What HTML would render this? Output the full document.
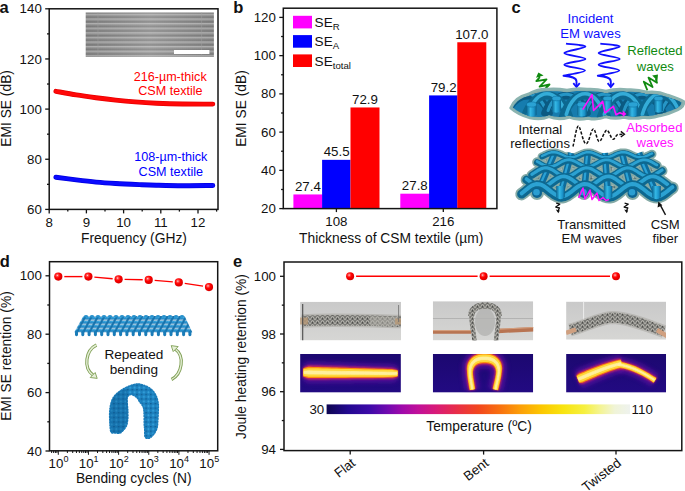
<!DOCTYPE html>
<html><head><meta charset="utf-8"><style>
html,body{margin:0;padding:0;background:#fff;}
svg{display:block;}
text{font-family:"Liberation Sans",sans-serif;}
</style></head><body>
<svg width="685" height="491" viewBox="0 0 685 491">
<rect width="685" height="491" fill="#fff"/>
<g>
<text x="-0.60" y="12.80" font-size="16.5" text-anchor="start" fill="#111" font-weight="bold">a</text>
<g>
<defs><linearGradient id="semv" x1="0" y1="0" x2="0" y2="1"><stop offset="0" stop-color="#6c6c6c"/><stop offset="0.3" stop-color="#acacac"/><stop offset="0.55" stop-color="#949494"/><stop offset="0.85" stop-color="#7e7e7e"/><stop offset="1" stop-color="#6a6a6a"/></linearGradient><pattern id="semp" x="0" y="12.9" width="200" height="4.6" patternUnits="userSpaceOnUse"><rect width="200" height="4.6" fill="url(#semv)"/></pattern><linearGradient id="semh" x1="0" y1="0" x2="1" y2="0"><stop offset="0" stop-color="#fff" stop-opacity="0"/><stop offset="0.5" stop-color="#fff" stop-opacity="0.18"/><stop offset="1" stop-color="#fff" stop-opacity="0"/></linearGradient></defs>
<rect x="85.70" y="12.50" width="128.20" height="44.50" fill="url(#semp)" />
<rect x="85.70" y="12.50" width="128.20" height="44.50" fill="url(#semh)" />
<line x1="98.00" y1="12.50" x2="98.00" y2="57.00" stroke="#a0a0a0" stroke-width="0.8" opacity="0.6"/>
<line x1="201.60" y1="12.50" x2="201.60" y2="57.00" stroke="#a0a0a0" stroke-width="0.8" opacity="0.6"/>
<rect x="174.00" y="50.00" width="35.40" height="4.00" fill="#ffffff" />
</g>
<rect x="49.20" y="8.80" width="168.80" height="200.60" fill="none" stroke="#141414" stroke-width="1.5"/>
<line x1="45.20" y1="209.40" x2="49.20" y2="209.40" stroke="#141414" stroke-width="1.3" />
<text x="41.80" y="214.00" font-size="13.3" text-anchor="end" fill="#111" >60</text>
<line x1="47.00" y1="184.33" x2="49.20" y2="184.33" stroke="#141414" stroke-width="1.3" />
<line x1="45.20" y1="159.25" x2="49.20" y2="159.25" stroke="#141414" stroke-width="1.3" />
<text x="41.80" y="163.85" font-size="13.3" text-anchor="end" fill="#111" >80</text>
<line x1="47.00" y1="134.18" x2="49.20" y2="134.18" stroke="#141414" stroke-width="1.3" />
<line x1="45.20" y1="109.10" x2="49.20" y2="109.10" stroke="#141414" stroke-width="1.3" />
<text x="41.80" y="113.70" font-size="13.3" text-anchor="end" fill="#111" >100</text>
<line x1="47.00" y1="84.03" x2="49.20" y2="84.03" stroke="#141414" stroke-width="1.3" />
<line x1="45.20" y1="58.95" x2="49.20" y2="58.95" stroke="#141414" stroke-width="1.3" />
<text x="41.80" y="63.55" font-size="13.3" text-anchor="end" fill="#111" >120</text>
<line x1="47.00" y1="33.88" x2="49.20" y2="33.88" stroke="#141414" stroke-width="1.3" />
<line x1="45.20" y1="8.80" x2="49.20" y2="8.80" stroke="#141414" stroke-width="1.3" />
<text x="41.80" y="13.40" font-size="13.3" text-anchor="end" fill="#111" >140</text>
<line x1="49.20" y1="209.40" x2="49.20" y2="213.40" stroke="#141414" stroke-width="1.3" />
<text x="49.20" y="226.70" font-size="13.3" text-anchor="middle" fill="#111" >8</text>
<line x1="67.80" y1="209.40" x2="67.80" y2="211.60" stroke="#141414" stroke-width="1.3" />
<line x1="86.40" y1="209.40" x2="86.40" y2="213.40" stroke="#141414" stroke-width="1.3" />
<text x="86.40" y="226.70" font-size="13.3" text-anchor="middle" fill="#111" >9</text>
<line x1="105.00" y1="209.40" x2="105.00" y2="211.60" stroke="#141414" stroke-width="1.3" />
<line x1="123.60" y1="209.40" x2="123.60" y2="213.40" stroke="#141414" stroke-width="1.3" />
<text x="123.60" y="226.70" font-size="13.3" text-anchor="middle" fill="#111" >10</text>
<line x1="142.20" y1="209.40" x2="142.20" y2="211.60" stroke="#141414" stroke-width="1.3" />
<line x1="160.80" y1="209.40" x2="160.80" y2="213.40" stroke="#141414" stroke-width="1.3" />
<text x="160.80" y="226.70" font-size="13.3" text-anchor="middle" fill="#111" >11</text>
<line x1="179.40" y1="209.40" x2="179.40" y2="211.60" stroke="#141414" stroke-width="1.3" />
<line x1="198.00" y1="209.40" x2="198.00" y2="213.40" stroke="#141414" stroke-width="1.3" />
<text x="198.00" y="226.70" font-size="13.3" text-anchor="middle" fill="#111" >12</text>
<line x1="216.60" y1="209.40" x2="216.60" y2="211.60" stroke="#141414" stroke-width="1.3" />
<text x="134.00" y="243.00" font-size="13.8" text-anchor="middle" fill="#111" >Frequency (GHz)</text>
<text transform="translate(11.4,108.4) rotate(-90)" font-size="13.8" text-anchor="middle" fill="#111">EMI SE (dB)</text>
<path d="M55.90,91.30 C59.30,91.90 69.62,93.83 76.30,94.90 C82.98,95.97 89.43,96.83 96.00,97.70 C102.57,98.57 109.20,99.40 115.70,100.10 C122.20,100.80 128.23,101.38 135.00,101.90 C141.77,102.42 148.37,102.85 156.30,103.20 C164.23,103.55 173.18,103.85 182.60,104.00 C192.02,104.15 207.77,104.08 212.80,104.10" fill="none" stroke="#e80000" stroke-width="4.9" stroke-linecap="round"/>
<path d="M55.90,91.30 C59.30,91.90 69.62,93.83 76.30,94.90 C82.98,95.97 89.43,96.83 96.00,97.70 C102.57,98.57 109.20,99.40 115.70,100.10 C122.20,100.80 128.23,101.38 135.00,101.90 C141.77,102.42 148.37,102.85 156.30,103.20 C164.23,103.55 173.18,103.85 182.60,104.00 C192.02,104.15 207.77,104.08 212.80,104.10" fill="none" stroke="#ff0808" stroke-width="3.4" stroke-linecap="round"/>
<path d="M55.90,177.20 C59.30,177.65 69.62,179.08 76.30,179.90 C82.98,180.72 89.43,181.50 96.00,182.10 C102.57,182.70 108.47,183.08 115.70,183.50 C122.93,183.92 132.63,184.32 139.40,184.60 C146.17,184.88 149.10,185.02 156.30,185.20 C163.50,185.38 173.18,185.65 182.60,185.70 C192.02,185.75 207.77,185.53 212.80,185.50" fill="none" stroke="#0000e0" stroke-width="4.9" stroke-linecap="round"/>
<path d="M55.90,177.20 C59.30,177.65 69.62,179.08 76.30,179.90 C82.98,180.72 89.43,181.50 96.00,182.10 C102.57,182.70 108.47,183.08 115.70,183.50 C122.93,183.92 132.63,184.32 139.40,184.60 C146.17,184.88 149.10,185.02 156.30,185.20 C163.50,185.38 173.18,185.65 182.60,185.70 C192.02,185.75 207.77,185.53 212.80,185.50" fill="none" stroke="#0a0aff" stroke-width="3.4" stroke-linecap="round"/>
<text x="170.20" y="80.60" font-size="12.6" text-anchor="middle" fill="#ff0000" >216-µm-thick</text>
<text x="170.40" y="95.20" font-size="12.6" text-anchor="middle" fill="#ff0000" >CSM textile</text>
<text x="170.80" y="161.20" font-size="12.6" text-anchor="middle" fill="#0000ff" >108-µm-thick</text>
<text x="170.80" y="175.80" font-size="12.6" text-anchor="middle" fill="#0000ff" >CSM textile</text>
<text x="233.30" y="13.10" font-size="16.5" text-anchor="start" fill="#111" font-weight="bold">b</text>
<rect x="293.40" y="194.45" width="29.00" height="14.15" fill="#ff00ff" />
<text x="307.90" y="191.05" font-size="13.3" text-anchor="middle" fill="#111" >27.4</text>
<rect x="322.10" y="159.84" width="28.40" height="48.76" fill="#0000ff" />
<text x="336.60" y="156.44" font-size="13.3" text-anchor="middle" fill="#111" >45.5</text>
<rect x="350.50" y="107.46" width="29.00" height="101.14" fill="#ff0000" />
<text x="365.00" y="104.06" font-size="13.3" text-anchor="middle" fill="#111" >72.9</text>
<rect x="400.30" y="193.69" width="29.00" height="14.91" fill="#ff00ff" />
<text x="414.80" y="190.29" font-size="13.3" text-anchor="middle" fill="#111" >27.8</text>
<rect x="429.10" y="95.41" width="28.40" height="113.19" fill="#0000ff" />
<text x="443.60" y="92.01" font-size="13.3" text-anchor="middle" fill="#111" >79.2</text>
<rect x="457.30" y="42.26" width="29.00" height="166.34" fill="#ff0000" />
<text x="471.80" y="38.86" font-size="13.3" text-anchor="middle" fill="#111" >107.0</text>
<rect x="283.30" y="8.20" width="213.60" height="200.40" fill="none" stroke="#141414" stroke-width="1.5"/>
<line x1="279.30" y1="208.60" x2="283.30" y2="208.60" stroke="#141414" stroke-width="1.3" />
<text x="275.90" y="213.20" font-size="13.3" text-anchor="end" fill="#111" >20</text>
<line x1="281.10" y1="189.48" x2="283.30" y2="189.48" stroke="#141414" stroke-width="1.3" />
<line x1="279.30" y1="170.36" x2="283.30" y2="170.36" stroke="#141414" stroke-width="1.3" />
<text x="275.90" y="174.96" font-size="13.3" text-anchor="end" fill="#111" >40</text>
<line x1="281.10" y1="151.24" x2="283.30" y2="151.24" stroke="#141414" stroke-width="1.3" />
<line x1="279.30" y1="132.12" x2="283.30" y2="132.12" stroke="#141414" stroke-width="1.3" />
<text x="275.90" y="136.72" font-size="13.3" text-anchor="end" fill="#111" >60</text>
<line x1="281.10" y1="113.00" x2="283.30" y2="113.00" stroke="#141414" stroke-width="1.3" />
<line x1="279.30" y1="93.88" x2="283.30" y2="93.88" stroke="#141414" stroke-width="1.3" />
<text x="275.90" y="98.48" font-size="13.3" text-anchor="end" fill="#111" >80</text>
<line x1="281.10" y1="74.76" x2="283.30" y2="74.76" stroke="#141414" stroke-width="1.3" />
<line x1="279.30" y1="55.64" x2="283.30" y2="55.64" stroke="#141414" stroke-width="1.3" />
<text x="275.90" y="60.24" font-size="13.3" text-anchor="end" fill="#111" >100</text>
<line x1="281.10" y1="36.52" x2="283.30" y2="36.52" stroke="#141414" stroke-width="1.3" />
<line x1="279.30" y1="17.40" x2="283.30" y2="17.40" stroke="#141414" stroke-width="1.3" />
<text x="275.90" y="22.00" font-size="13.3" text-anchor="end" fill="#111" >120</text>
<line x1="336.40" y1="208.60" x2="336.40" y2="212.10" stroke="#141414" stroke-width="1.3" />
<text x="336.40" y="226.40" font-size="13.3" text-anchor="middle" fill="#111" >108</text>
<line x1="443.30" y1="208.60" x2="443.30" y2="212.10" stroke="#141414" stroke-width="1.3" />
<text x="443.30" y="226.40" font-size="13.3" text-anchor="middle" fill="#111" >216</text>
<text x="391.20" y="242.60" font-size="13.8" text-anchor="middle" fill="#111" >Thickness of CSM textile (µm)</text>
<text transform="translate(246.3,108.5) rotate(-90)" font-size="13.8" text-anchor="middle" fill="#111">EMI SE (dB)</text>
<rect x="293.00" y="15.80" width="19.00" height="12.60" fill="#ff00ff" />
<text x="314.6" y="27.10" font-size="13.6" fill="#111">SE<tspan font-size="9.6" dy="2.8">R</tspan></text>
<rect x="293.00" y="35.10" width="19.00" height="12.60" fill="#0000ff" />
<text x="314.6" y="46.40" font-size="13.6" fill="#111">SE<tspan font-size="9.6" dy="2.8">A</tspan></text>
<rect x="293.00" y="54.40" width="19.00" height="12.60" fill="#ff0000" />
<text x="314.6" y="65.70" font-size="13.6" fill="#111">SE<tspan font-size="9.6" dy="2.8">total</tspan></text>
<text x="-0.30" y="266.70" font-size="16.5" text-anchor="start" fill="#111" font-weight="bold">d</text>
<rect x="49.50" y="261.70" width="168.20" height="189.10" fill="none" stroke="#141414" stroke-width="1.5"/>
<line x1="45.50" y1="451.00" x2="49.50" y2="451.00" stroke="#141414" stroke-width="1.3" />
<text x="41.90" y="455.60" font-size="13.3" text-anchor="end" fill="#111" >40</text>
<line x1="47.30" y1="421.80" x2="49.50" y2="421.80" stroke="#141414" stroke-width="1.3" />
<line x1="45.50" y1="392.60" x2="49.50" y2="392.60" stroke="#141414" stroke-width="1.3" />
<text x="41.90" y="397.20" font-size="13.3" text-anchor="end" fill="#111" >60</text>
<line x1="47.30" y1="363.40" x2="49.50" y2="363.40" stroke="#141414" stroke-width="1.3" />
<line x1="45.50" y1="334.20" x2="49.50" y2="334.20" stroke="#141414" stroke-width="1.3" />
<text x="41.90" y="338.80" font-size="13.3" text-anchor="end" fill="#111" >80</text>
<line x1="47.30" y1="305.00" x2="49.50" y2="305.00" stroke="#141414" stroke-width="1.3" />
<line x1="45.50" y1="275.80" x2="49.50" y2="275.80" stroke="#141414" stroke-width="1.3" />
<text x="41.90" y="280.40" font-size="13.3" text-anchor="end" fill="#111" >100</text>
<line x1="51.61" y1="450.80" x2="51.61" y2="453.00" stroke="#141414" stroke-width="1.0" />
<line x1="53.63" y1="450.80" x2="53.63" y2="453.00" stroke="#141414" stroke-width="1.0" />
<line x1="55.38" y1="450.80" x2="55.38" y2="453.00" stroke="#141414" stroke-width="1.0" />
<line x1="56.92" y1="450.80" x2="56.92" y2="453.00" stroke="#141414" stroke-width="1.0" />
<line x1="58.30" y1="450.80" x2="58.30" y2="454.80" stroke="#141414" stroke-width="1.0" />
<line x1="67.38" y1="450.80" x2="67.38" y2="453.00" stroke="#141414" stroke-width="1.0" />
<line x1="72.69" y1="450.80" x2="72.69" y2="453.00" stroke="#141414" stroke-width="1.0" />
<line x1="76.45" y1="450.80" x2="76.45" y2="453.00" stroke="#141414" stroke-width="1.0" />
<line x1="79.37" y1="450.80" x2="79.37" y2="453.00" stroke="#141414" stroke-width="1.0" />
<line x1="81.76" y1="450.80" x2="81.76" y2="453.00" stroke="#141414" stroke-width="1.0" />
<line x1="83.78" y1="450.80" x2="83.78" y2="453.00" stroke="#141414" stroke-width="1.0" />
<line x1="85.53" y1="450.80" x2="85.53" y2="453.00" stroke="#141414" stroke-width="1.0" />
<line x1="87.07" y1="450.80" x2="87.07" y2="453.00" stroke="#141414" stroke-width="1.0" />
<line x1="88.45" y1="450.80" x2="88.45" y2="454.80" stroke="#141414" stroke-width="1.0" />
<line x1="97.53" y1="450.80" x2="97.53" y2="453.00" stroke="#141414" stroke-width="1.0" />
<line x1="102.84" y1="450.80" x2="102.84" y2="453.00" stroke="#141414" stroke-width="1.0" />
<line x1="106.60" y1="450.80" x2="106.60" y2="453.00" stroke="#141414" stroke-width="1.0" />
<line x1="109.52" y1="450.80" x2="109.52" y2="453.00" stroke="#141414" stroke-width="1.0" />
<line x1="111.91" y1="450.80" x2="111.91" y2="453.00" stroke="#141414" stroke-width="1.0" />
<line x1="113.93" y1="450.80" x2="113.93" y2="453.00" stroke="#141414" stroke-width="1.0" />
<line x1="115.68" y1="450.80" x2="115.68" y2="453.00" stroke="#141414" stroke-width="1.0" />
<line x1="117.22" y1="450.80" x2="117.22" y2="453.00" stroke="#141414" stroke-width="1.0" />
<line x1="118.60" y1="450.80" x2="118.60" y2="454.80" stroke="#141414" stroke-width="1.0" />
<line x1="127.68" y1="450.80" x2="127.68" y2="453.00" stroke="#141414" stroke-width="1.0" />
<line x1="132.99" y1="450.80" x2="132.99" y2="453.00" stroke="#141414" stroke-width="1.0" />
<line x1="136.75" y1="450.80" x2="136.75" y2="453.00" stroke="#141414" stroke-width="1.0" />
<line x1="139.67" y1="450.80" x2="139.67" y2="453.00" stroke="#141414" stroke-width="1.0" />
<line x1="142.06" y1="450.80" x2="142.06" y2="453.00" stroke="#141414" stroke-width="1.0" />
<line x1="144.08" y1="450.80" x2="144.08" y2="453.00" stroke="#141414" stroke-width="1.0" />
<line x1="145.83" y1="450.80" x2="145.83" y2="453.00" stroke="#141414" stroke-width="1.0" />
<line x1="147.37" y1="450.80" x2="147.37" y2="453.00" stroke="#141414" stroke-width="1.0" />
<line x1="148.75" y1="450.80" x2="148.75" y2="454.80" stroke="#141414" stroke-width="1.0" />
<line x1="157.83" y1="450.80" x2="157.83" y2="453.00" stroke="#141414" stroke-width="1.0" />
<line x1="163.14" y1="450.80" x2="163.14" y2="453.00" stroke="#141414" stroke-width="1.0" />
<line x1="166.90" y1="450.80" x2="166.90" y2="453.00" stroke="#141414" stroke-width="1.0" />
<line x1="169.82" y1="450.80" x2="169.82" y2="453.00" stroke="#141414" stroke-width="1.0" />
<line x1="172.21" y1="450.80" x2="172.21" y2="453.00" stroke="#141414" stroke-width="1.0" />
<line x1="174.23" y1="450.80" x2="174.23" y2="453.00" stroke="#141414" stroke-width="1.0" />
<line x1="175.98" y1="450.80" x2="175.98" y2="453.00" stroke="#141414" stroke-width="1.0" />
<line x1="177.52" y1="450.80" x2="177.52" y2="453.00" stroke="#141414" stroke-width="1.0" />
<line x1="178.90" y1="450.80" x2="178.90" y2="454.80" stroke="#141414" stroke-width="1.0" />
<line x1="187.98" y1="450.80" x2="187.98" y2="453.00" stroke="#141414" stroke-width="1.0" />
<line x1="193.29" y1="450.80" x2="193.29" y2="453.00" stroke="#141414" stroke-width="1.0" />
<line x1="197.05" y1="450.80" x2="197.05" y2="453.00" stroke="#141414" stroke-width="1.0" />
<line x1="199.97" y1="450.80" x2="199.97" y2="453.00" stroke="#141414" stroke-width="1.0" />
<line x1="202.36" y1="450.80" x2="202.36" y2="453.00" stroke="#141414" stroke-width="1.0" />
<line x1="204.38" y1="450.80" x2="204.38" y2="453.00" stroke="#141414" stroke-width="1.0" />
<line x1="206.13" y1="450.80" x2="206.13" y2="453.00" stroke="#141414" stroke-width="1.0" />
<line x1="207.67" y1="450.80" x2="207.67" y2="453.00" stroke="#141414" stroke-width="1.0" />
<line x1="209.05" y1="450.80" x2="209.05" y2="454.80" stroke="#141414" stroke-width="1.0" />
<text x="58.50" y="467.6" font-size="13.3" text-anchor="middle" fill="#111">10<tspan font-size="9" dy="-5.2">0</tspan></text>
<text x="88.65" y="467.6" font-size="13.3" text-anchor="middle" fill="#111">10<tspan font-size="9" dy="-5.2">1</tspan></text>
<text x="118.80" y="467.6" font-size="13.3" text-anchor="middle" fill="#111">10<tspan font-size="9" dy="-5.2">2</tspan></text>
<text x="148.95" y="467.6" font-size="13.3" text-anchor="middle" fill="#111">10<tspan font-size="9" dy="-5.2">3</tspan></text>
<text x="179.10" y="467.6" font-size="13.3" text-anchor="middle" fill="#111">10<tspan font-size="9" dy="-5.2">4</tspan></text>
<text x="209.25" y="467.6" font-size="13.3" text-anchor="middle" fill="#111">10<tspan font-size="9" dy="-5.2">5</tspan></text>
<text x="133.80" y="483.00" font-size="13.8" text-anchor="middle" fill="#111" >Bending cycles (N)</text>
<text transform="translate(11.4,356) rotate(-90)" font-size="13.8" text-anchor="middle" fill="#111">EMI SE retention (%)</text>
<text x="233.00" y="266.50" font-size="16.5" text-anchor="start" fill="#111" font-weight="bold">e</text>
<rect x="284.00" y="262.00" width="397.80" height="188.60" fill="none" stroke="#141414" stroke-width="1.5"/>
<line x1="280.00" y1="449.40" x2="284.00" y2="449.40" stroke="#141414" stroke-width="1.3" />
<text x="276.00" y="454.00" font-size="13.3" text-anchor="end" fill="#111" >94</text>
<line x1="281.80" y1="420.55" x2="284.00" y2="420.55" stroke="#141414" stroke-width="1.3" />
<line x1="280.00" y1="391.70" x2="284.00" y2="391.70" stroke="#141414" stroke-width="1.3" />
<text x="276.00" y="396.30" font-size="13.3" text-anchor="end" fill="#111" >96</text>
<line x1="281.80" y1="362.85" x2="284.00" y2="362.85" stroke="#141414" stroke-width="1.3" />
<line x1="280.00" y1="334.00" x2="284.00" y2="334.00" stroke="#141414" stroke-width="1.3" />
<text x="276.00" y="338.60" font-size="13.3" text-anchor="end" fill="#111" >98</text>
<line x1="281.80" y1="305.15" x2="284.00" y2="305.15" stroke="#141414" stroke-width="1.3" />
<line x1="280.00" y1="276.30" x2="284.00" y2="276.30" stroke="#141414" stroke-width="1.3" />
<text x="276.00" y="280.90" font-size="13.3" text-anchor="end" fill="#111" >100</text>
<line x1="350.20" y1="450.60" x2="350.20" y2="454.60" stroke="#141414" stroke-width="1.3" />
<text transform="translate(356.20,464.60) rotate(-38)" font-size="13.3" text-anchor="end" fill="#111">Flat</text>
<line x1="483.60" y1="450.60" x2="483.60" y2="454.60" stroke="#141414" stroke-width="1.3" />
<text transform="translate(489.60,464.60) rotate(-38)" font-size="13.3" text-anchor="end" fill="#111">Bent</text>
<line x1="616.00" y1="450.60" x2="616.00" y2="454.60" stroke="#141414" stroke-width="1.3" />
<text transform="translate(622.00,464.60) rotate(-38)" font-size="13.3" text-anchor="end" fill="#111">Twisted</text>
<text transform="translate(245.9,356.5) rotate(-90)" font-size="13.8" text-anchor="middle" fill="#111">Joule heating retention (%)</text>
<text x="479.00" y="430.70" font-size="13.8" text-anchor="middle" fill="#111" >Temperature (ºC)</text>
<text x="324.20" y="414.10" font-size="13.3" text-anchor="end" fill="#111" >30</text>
<text x="631.60" y="414.00" font-size="13.3" text-anchor="start" fill="#111" >110</text>
<text x="511.60" y="13.00" font-size="16.5" text-anchor="start" fill="#111" font-weight="bold">c</text>
<text x="590.50" y="22.90" font-size="13.1" text-anchor="middle" fill="#1010ff" >Incident</text>
<text x="590.50" y="37.70" font-size="13.1" text-anchor="middle" fill="#1010ff" >EM waves</text>
<text x="655.00" y="55.30" font-size="13.1" text-anchor="middle" fill="#108a10" >Reflected</text>
<text x="655.30" y="70.60" font-size="13.1" text-anchor="middle" fill="#108a10" >waves</text>
<text x="540.30" y="133.50" font-size="13.1" text-anchor="middle" fill="#111" >Internal</text>
<text x="540.10" y="148.40" font-size="13.1" text-anchor="middle" fill="#111" >reflections</text>
<text x="654.40" y="132.20" font-size="13.1" text-anchor="middle" fill="#ff10ff" >Absorbed</text>
<text x="655.00" y="146.70" font-size="13.1" text-anchor="middle" fill="#ff10ff" >waves</text>
<text x="591.50" y="228.50" font-size="13.1" text-anchor="middle" fill="#111" >Transmitted</text>
<text x="591.70" y="243.40" font-size="13.1" text-anchor="middle" fill="#111" >EM waves</text>
<text x="665.20" y="228.50" font-size="13.1" text-anchor="middle" fill="#111" >CSM</text>
<text x="665.30" y="243.40" font-size="13.1" text-anchor="middle" fill="#111" >fiber</text>
<path d="M566.00,43.60 C569.23,44.12 585.68,45.12 585.40,46.70 C585.12,48.28 564.30,51.07 564.30,53.10 C564.30,55.13 585.40,56.97 585.40,58.90 C585.40,60.83 564.37,62.77 564.30,64.70 C564.23,66.63 585.13,68.67 585.00,70.50 C584.87,72.33 567.08,74.83 563.50,75.70 C570.0,76.2 576.5,77 576.5,81.5 L576.5,86.5" fill="none" stroke="#1010ff" stroke-width="1.9" stroke-linejoin="round"/>
<polyline points="573.3,83.2 576.5,87 579.7,83.2" fill="none" stroke="#1010ff" stroke-width="1.8" stroke-linejoin="miter"/>
<path d="M600.30,43.60 C603.53,44.12 619.98,45.12 619.70,46.70 C619.42,48.28 598.60,51.07 598.60,53.10 C598.60,55.13 619.70,56.97 619.70,58.90 C619.70,60.83 598.67,62.77 598.60,64.70 C598.53,66.63 619.43,68.67 619.30,70.50 C619.17,72.33 601.38,74.83 597.80,75.70 C604.3,76.2 610.8,77 610.8,81.5 L610.8,86.5" fill="none" stroke="#1010ff" stroke-width="1.9" stroke-linejoin="round"/>
<polyline points="607.6,83.2 610.8,87 614.0,83.2" fill="none" stroke="#1010ff" stroke-width="1.8" stroke-linejoin="miter"/>
<polyline points="542.6,91.4 549.5,84.5 539.6,86.7 546.5,79.5 536.3,81.2 539.4,77.6 538.8,74.5" fill="none" stroke="#108a10" stroke-width="1.8" stroke-linejoin="round"/>
<polygon points="538.4,72.6 536.0,77.8 543.6,75.6" fill="#108a10"/>
<polyline points="647.4,90.3 643.8,81.7 652.6,87 648.5,77.6 657,82.8 655.8,78.6" fill="none" stroke="#108a10" stroke-width="1.8" stroke-linejoin="round"/>
<polygon points="658.0,74.4 652.2,75.6 657.4,80.8" fill="#108a10"/>
<defs>
<linearGradient id="tealV" x1="0" y1="0" x2="0" y2="1">
<stop offset="0" stop-color="#2aa6d6"/><stop offset="0.45" stop-color="#1a8cc4"/><stop offset="1" stop-color="#0a5e88"/></linearGradient>
<linearGradient id="tubeV" x1="0" y1="0" x2="0" y2="1">
<stop offset="0" stop-color="#0d6c9a"/><stop offset="0.35" stop-color="#30b4e4"/><stop offset="0.7" stop-color="#1790c8"/><stop offset="1" stop-color="#0a5a84"/></linearGradient>
<linearGradient id="tubeH" x1="0" y1="0" x2="1" y2="0">
<stop offset="0" stop-color="#0b6490"/><stop offset="0.4" stop-color="#34b8e6"/><stop offset="0.75" stop-color="#1a92c8"/><stop offset="1" stop-color="#0a5e88"/></linearGradient>
<pattern id="meshgap" width="4" height="4" patternUnits="userSpaceOnUse">
<rect width="4" height="4" fill="#758888"/><rect x="0" y="0" width="2" height="2" fill="#a6b4b4"/><rect x="2" y="2" width="2" height="2" fill="#566a6a"/></pattern>
<filter id="soft" x="-10%" y="-10%" width="120%" height="120%"><feGaussianBlur stdDeviation="0.5"/></filter>
<filter id="soft1" x="-10%" y="-30%" width="120%" height="160%"><feGaussianBlur stdDeviation="1"/></filter>
</defs>
<path d="M510.5,108 C513,101 520,96 528,94 C535,90 541,88.5 548,89 C555,88.5 561,89 567,90 C573,88.5 580,88 587,89 C594,88.5 600,89.5 606,91 C613,89 620,88.5 627,89.5 C634,89 641,90 647,92 C655,91 662,92.5 668,95 C674,97 680,99 684,101.5 C684.5,105 682,108 678,110 C672,113 666,115 660,116 C655,118 649,118.5 644,117.5 C637,119 630,119 624,117.5 C618,119 612,119 606,117 C600,119.5 594,120 588,118.5 C581,120 574,119.5 569,117.5 C562,119.5 555,119.5 549,117 C543,119.5 536,119.5 530,118 C523,116 516,113 510.5,108 Z" fill="#86acaa" stroke="#8cb4b0" stroke-width="2.4" stroke-linejoin="round" filter="url(#soft)"/>
<path d="M513,107.5 C516,101.5 522,97.5 529,96 C536,92.5 542,91 548,91.5 C555,91 561,91.5 567,92.5 C573,91 580,90.5 587,91.5 C594,91 600,92 606,93.5 C613,91.5 620,91 627,92 C634,91.5 641,92.5 647,94.5 C655,93.5 662,95 668,97.5 C673,99 678,100.5 681.5,102.5 C681,105 679,107 676,108.5 C670,111.5 664,113 658,114 C653,116 648,116.5 644,115.5 C637,117 630,117 624,115.5 C618,117 612,117 606,115 C600,117.5 594,118 588,116.5 C581,118 574,117.5 569,115.5 C562,117.5 555,117.5 549,115 C543,117.5 536,117.5 530,116 C523,114 517,111.5 513,107.5 Z" fill="#167cae"/>
<clipPath id="tclip"><path d="M513,107.5 C516,101.5 522,97.5 529,96 C536,92.5 542,91 548,91.5 C555,91 561,91.5 567,92.5 C573,91 580,90.5 587,91.5 C594,91 600,92 606,93.5 C613,91.5 620,91 627,92 C634,91.5 641,92.5 647,94.5 C655,93.5 662,95 668,97.5 C673,99 678,100.5 681.5,102.5 C681,105 679,107 676,108.5 C670,111.5 664,113 658,114 C653,116 648,116.5 644,115.5 C637,117 630,117 624,115.5 C618,117 612,117 606,115 C600,117.5 594,118 588,116.5 C581,118 574,117.5 569,115.5 C562,117.5 555,117.5 549,115 C543,117.5 536,117.5 530,116 C523,114 517,111.5 513,107.5 Z"/></clipPath>
<g clip-path="url(#tclip)">
<path d="M507.0,113.0 C516.5,90.0 539.5,90.0 549.0,113.0" fill="none" stroke="#0b5a82" stroke-width="7.5" stroke-linecap="round"/>
<path d="M510.1,110.5 C517.5,88.8 538.5,88.8 545.9,110.5" fill="none" stroke="#2696c6" stroke-width="3.1" stroke-linecap="round"/>
<path d="M545.0,113.0 C554.5,90.0 577.5,90.0 587.0,113.0" fill="none" stroke="#0b5a82" stroke-width="7.5" stroke-linecap="round"/>
<path d="M548.1,110.5 C555.5,88.8 576.5,88.8 583.9,110.5" fill="none" stroke="#2696c6" stroke-width="3.1" stroke-linecap="round"/>
<path d="M583.0,113.0 C592.5,90.0 615.5,90.0 625.0,113.0" fill="none" stroke="#0b5a82" stroke-width="7.5" stroke-linecap="round"/>
<path d="M586.1,110.5 C593.5,88.8 614.5,88.8 621.9,110.5" fill="none" stroke="#2696c6" stroke-width="3.1" stroke-linecap="round"/>
<path d="M621.0,113.0 C630.5,90.0 653.5,90.0 663.0,113.0" fill="none" stroke="#0b5a82" stroke-width="7.5" stroke-linecap="round"/>
<path d="M624.1,110.5 C631.5,88.8 652.5,88.8 659.9,110.5" fill="none" stroke="#2696c6" stroke-width="3.1" stroke-linecap="round"/>
<path d="M659.0,113.0 C668.5,90.0 691.5,90.0 701.0,113.0" fill="none" stroke="#0b5a82" stroke-width="7.5" stroke-linecap="round"/>
<path d="M662.1,110.5 C669.5,88.8 690.5,88.8 697.9,110.5" fill="none" stroke="#2696c6" stroke-width="3.1" stroke-linecap="round"/>
<path d="M525.0,117.0 C534.9,88.0 559.1,88.0 569.0,117.0" fill="none" stroke="#0d6890" stroke-width="8.5" stroke-linecap="round"/>
<path d="M528.3,114.5 C536.0,86.8 558.0,86.8 565.7,114.5" fill="none" stroke="#34acd8" stroke-width="3.6" stroke-linecap="round"/>
<path d="M563.0,117.0 C572.9,88.0 597.1,88.0 607.0,117.0" fill="none" stroke="#0d6890" stroke-width="8.5" stroke-linecap="round"/>
<path d="M566.3,114.5 C574.0,86.8 596.0,86.8 603.7,114.5" fill="none" stroke="#34acd8" stroke-width="3.6" stroke-linecap="round"/>
<path d="M601.0,117.0 C610.9,88.0 635.1,88.0 645.0,117.0" fill="none" stroke="#0d6890" stroke-width="8.5" stroke-linecap="round"/>
<path d="M604.3,114.5 C612.0,86.8 634.0,86.8 641.7,114.5" fill="none" stroke="#34acd8" stroke-width="3.6" stroke-linecap="round"/>
<path d="M639.0,117.0 C648.9,88.0 673.1,88.0 683.0,117.0" fill="none" stroke="#0d6890" stroke-width="8.5" stroke-linecap="round"/>
<path d="M642.3,114.5 C650.0,86.8 672.0,86.8 679.7,114.5" fill="none" stroke="#34acd8" stroke-width="3.6" stroke-linecap="round"/>
</g>
<path d="M526.5,104.5 L526.5,115.0 Q531.5,118.5 536.5,115.0 L536.5,104.5 Z" fill="url(#tubeH)"/>
<ellipse cx="531.5" cy="104.5" rx="5.0" ry="2.6" fill="#2aa2d4" stroke="#0e6f9e" stroke-width="0.6"/>
<path d="M552.0,98.5 L552.0,111.0 Q556.5,114.5 561.0,111.0 L561.0,98.5 Z" fill="url(#tubeH)"/>
<ellipse cx="556.5" cy="98.5" rx="4.5" ry="2.3" fill="#2aa2d4" stroke="#0e6f9e" stroke-width="0.6"/>
<path d="M577.0,104.5 L577.0,115.0 Q582.0,118.5 587.0,115.0 L587.0,104.5 Z" fill="url(#tubeH)"/>
<ellipse cx="582.0" cy="104.5" rx="5.0" ry="2.6" fill="#2aa2d4" stroke="#0e6f9e" stroke-width="0.6"/>
<path d="M603.0,98.5 L603.0,111.0 Q607.5,114.5 612.0,111.0 L612.0,98.5 Z" fill="url(#tubeH)"/>
<ellipse cx="607.5" cy="98.5" rx="4.5" ry="2.3" fill="#2aa2d4" stroke="#0e6f9e" stroke-width="0.6"/>
<path d="M628.0,104.5 L628.0,115.0 Q633.0,118.5 638.0,115.0 L638.0,104.5 Z" fill="url(#tubeH)"/>
<ellipse cx="633.0" cy="104.5" rx="5.0" ry="2.6" fill="#2aa2d4" stroke="#0e6f9e" stroke-width="0.6"/>
<path d="M654.0,98.5 L654.0,111.0 Q658.5,114.5 663.0,111.0 L663.0,98.5 Z" fill="url(#tubeH)"/>
<ellipse cx="658.5" cy="98.5" rx="4.5" ry="2.3" fill="#2aa2d4" stroke="#0e6f9e" stroke-width="0.6"/>
<polyline points="582.6,109.7 592,94.6 593.6,110.5 602.7,101.4 605,112.8 613.3,106.3 616,114.7 619.8,112.8 623.4,114.2" fill="none" stroke="#ff10ff" stroke-width="1.6" stroke-linejoin="round"/>
<polygon points="626.4,114 622.6,110.6 622.8,117" fill="#ff10ff"/>
<path d="M573,146.5 C575,138 576.5,126 578.4,126.1 C580.5,126.2 583,143.8 586.1,143.8 C589,143.8 591,128.9 593.3,128.9 C595.5,128.9 597,141.5 599.2,141.5 C601.5,141.5 604.5,130.2 606.9,130.2 C609,130.2 611,139.3 613.2,139.3 C615,139.3 616,134.6 618,134.5 L623,134.3" fill="none" stroke="#111" stroke-width="1.5" stroke-dasharray="3,1.6"/>
<polyline points="620.8,131.4 624.4,134.3 620.8,137" fill="none" stroke="#111" stroke-width="1.4"/>
<path d="M543.7,155 L650.3,155 L671,189 L523,189 Z" fill="url(#meshgap)"/>
<line x1="554.7" y1="153" x2="537.0" y2="196" stroke="#84aaa6" stroke-width="9.5"/>
<line x1="571.3" y1="153" x2="560.5" y2="196" stroke="#84aaa6" stroke-width="9.5"/>
<line x1="587.8" y1="153" x2="584.0" y2="196" stroke="#84aaa6" stroke-width="9.5"/>
<line x1="604.8" y1="153" x2="608.0" y2="196" stroke="#84aaa6" stroke-width="9.5"/>
<line x1="622.0" y1="153" x2="632.5" y2="196" stroke="#84aaa6" stroke-width="9.5"/>
<line x1="638.9" y1="153" x2="656.5" y2="196" stroke="#84aaa6" stroke-width="9.5"/>
<path d="M542.0,156.8 L543.8,156.0 L545.7,155.1 L547.5,154.3 L549.3,153.6 L551.2,153.1 L553.0,152.9 L554.8,153.0 L556.7,153.3 L558.5,153.9 L560.3,154.6 L562.2,155.5 L564.0,156.3 L565.8,157.1 L567.7,157.7 L569.5,158.0 L571.3,158.1 L573.2,157.9 L575.0,157.4 L576.8,156.8 L578.7,156.0 L580.5,155.1 L582.3,154.3 L584.2,153.6 L586.0,153.1 L587.8,152.9 L589.7,153.0 L591.5,153.3 L593.3,153.9 L595.2,154.7 L597.0,155.5 L598.8,156.3 L600.7,157.1 L602.5,157.7 L604.3,158.0 L606.2,158.1 L608.0,157.9 L609.8,157.4 L611.7,156.7 L613.5,155.9 L615.3,155.0 L617.2,154.2 L619.0,153.6 L620.8,153.1 L622.7,152.9 L624.5,153.0 L626.3,153.3 L628.2,153.9 L630.0,154.7 L631.8,155.5 L633.7,156.4 L635.5,157.1 L637.3,157.7 L639.2,158.0 L641.0,158.1 L642.8,157.9 L644.7,157.4 L646.5,156.7 L648.3,155.9 L650.2,155.0 L652.0,154.2" fill="none" stroke="#84aaa6" stroke-width="9.0" stroke-linecap="round" stroke-linejoin="round"/>
<path d="M537.1,162.3 L539.1,163.3 L541.1,164.5 L543.1,165.6 L545.1,166.5 L547.1,167.1 L549.1,167.4 L551.1,167.4 L553.1,166.9 L555.1,166.2 L557.1,165.2 L559.1,164.1 L561.1,162.9 L563.1,161.9 L565.1,161.1 L567.1,160.7 L569.1,160.5 L571.1,160.8 L573.0,161.4 L575.0,162.3 L577.0,163.4 L579.0,164.5 L581.0,165.6 L583.0,166.5 L585.0,167.2 L587.0,167.4 L589.0,167.4 L591.0,166.9 L593.0,166.1 L595.0,165.1 L597.0,164.0 L599.0,162.9 L601.0,161.9 L603.0,161.1 L605.0,160.6 L607.0,160.6 L609.0,160.8 L611.0,161.5 L613.0,162.4 L615.0,163.5 L617.0,164.6 L619.0,165.7 L621.0,166.6 L622.9,167.2 L624.9,167.5 L626.9,167.3 L628.9,166.9 L630.9,166.1 L632.9,165.1 L634.9,163.9 L636.9,162.8 L638.9,161.8 L640.9,161.1 L642.9,160.6 L644.9,160.6 L646.9,160.9 L648.9,161.5 L650.9,162.4 L652.9,163.5 L654.9,164.7 L656.9,165.7" fill="none" stroke="#84aaa6" stroke-width="9.9" stroke-linecap="round" stroke-linejoin="round"/>
<path d="M531.9,175.2 L534.1,173.8 L536.3,172.4 L538.4,171.0 L540.6,169.9 L542.8,169.0 L545.0,168.6 L547.1,168.7 L549.3,169.3 L551.5,170.2 L553.6,171.5 L555.8,172.9 L558.0,174.4 L560.1,175.6 L562.3,176.6 L564.5,177.2 L566.6,177.4 L568.8,177.0 L571.0,176.3 L573.1,175.1 L575.3,173.8 L577.5,172.3 L579.7,170.9 L581.8,169.8 L584.0,169.0 L586.2,168.6 L588.3,168.8 L590.5,169.3 L592.7,170.3 L594.8,171.6 L597.0,173.0 L599.2,174.4 L601.3,175.7 L603.5,176.7 L605.7,177.2 L607.8,177.4 L610.0,177.0 L612.2,176.2 L614.3,175.1 L616.5,173.7 L618.7,172.2 L620.9,170.9 L623.0,169.7 L625.2,169.0 L627.4,168.6 L629.5,168.8 L631.7,169.4 L633.9,170.4 L636.0,171.6 L638.2,173.1 L640.4,174.5 L642.5,175.8 L644.7,176.7 L646.9,177.3 L649.0,177.4 L651.2,177.0 L653.4,176.1 L655.6,175.0 L657.7,173.6 L659.9,172.2 L662.1,170.8" fill="none" stroke="#84aaa6" stroke-width="10.8" stroke-linecap="round" stroke-linejoin="round"/>
<path d="M526.5,179.8 L528.8,181.5 L531.2,183.2 L533.5,184.9 L535.9,186.3 L538.2,187.3 L540.6,187.8 L542.9,187.7 L545.3,187.0 L547.6,185.9 L550.0,184.3 L552.3,182.6 L554.7,180.9 L557.0,179.3 L559.4,178.1 L561.7,177.3 L564.1,177.2 L566.4,177.6 L568.8,178.5 L571.1,179.9 L573.5,181.6 L575.8,183.3 L578.2,185.0 L580.5,186.4 L582.9,187.4 L585.2,187.8 L587.6,187.7 L589.9,187.0 L592.3,185.8 L594.6,184.2 L597.0,182.5 L599.4,180.8 L601.7,179.2 L604.1,178.0 L606.4,177.3 L608.8,177.2 L611.1,177.6 L613.5,178.6 L615.8,180.0 L618.2,181.7 L620.5,183.4 L622.9,185.1 L625.2,186.5 L627.6,187.4 L629.9,187.8 L632.3,187.7 L634.6,186.9 L637.0,185.7 L639.3,184.1 L641.7,182.4 L644.0,180.7 L646.4,179.1 L648.7,178.0 L651.1,177.3 L653.4,177.2 L655.8,177.7 L658.1,178.7 L660.5,180.1 L662.8,181.8 L665.2,183.5 L667.5,185.2" fill="none" stroke="#84aaa6" stroke-width="11.7" stroke-linecap="round" stroke-linejoin="round"/>
<path d="M521.6,194.1 L524.1,192.2 L526.6,190.1 L529.1,188.2 L531.6,186.5 L534.1,185.4 L536.7,184.8 L539.2,185.0 L541.7,185.7 L544.2,187.1 L546.7,188.9 L549.2,190.9 L551.7,192.9 L554.3,194.7 L556.8,196.1 L559.3,197.0 L561.8,197.2 L564.3,196.7 L566.8,195.6 L569.3,194.0 L571.9,192.1 L574.4,190.0 L576.9,188.1 L579.4,186.5 L581.9,185.3 L584.4,184.8 L586.9,185.0 L589.5,185.8 L592.0,187.2 L594.5,189.0 L597.0,191.0 L599.5,193.0 L602.0,194.8 L604.5,196.2 L607.1,197.0 L609.6,197.2 L612.1,196.7 L614.6,195.5 L617.1,193.9 L619.6,192.0 L622.1,189.9 L624.7,188.0 L627.2,186.4 L629.7,185.3 L632.2,184.8 L634.7,185.0 L637.2,185.9 L639.7,187.3 L642.3,189.1 L644.8,191.1 L647.3,193.1 L649.8,194.9 L652.3,196.3 L654.8,197.0 L657.3,197.2 L659.9,196.6 L662.4,195.5 L664.9,193.8 L667.4,191.9 L669.9,189.8 L672.4,187.9" fill="none" stroke="#84aaa6" stroke-width="12.6" stroke-linecap="round" stroke-linejoin="round"/>
<circle cx="537.0" cy="193" r="7.0" fill="#84aaa6"/>
<circle cx="584.0" cy="193" r="7.0" fill="#84aaa6"/>
<circle cx="632.5" cy="193" r="7.0" fill="#84aaa6"/>
<rect x="554.5" y="186" width="12" height="16.5" rx="5" fill="#84aaa6"/>
<rect x="602.0" y="186" width="12" height="16.5" rx="5" fill="#84aaa6"/>
<rect x="650.5" y="186" width="12" height="16.5" rx="5" fill="#84aaa6"/>
<line x1="554.7" y1="153" x2="537.0" y2="194" stroke="#0d6c9c" stroke-width="6.5"/>
<line x1="554.1" y1="153" x2="536.2" y2="194" stroke="#2aa2d6" stroke-width="2.2"/>
<line x1="571.3" y1="153" x2="560.5" y2="194" stroke="#0d6c9c" stroke-width="6.5"/>
<line x1="570.7" y1="153" x2="559.7" y2="194" stroke="#2aa2d6" stroke-width="2.2"/>
<line x1="587.8" y1="153" x2="584.0" y2="194" stroke="#0d6c9c" stroke-width="6.5"/>
<line x1="587.2" y1="153" x2="583.2" y2="194" stroke="#2aa2d6" stroke-width="2.2"/>
<line x1="604.8" y1="153" x2="608.0" y2="194" stroke="#0d6c9c" stroke-width="6.5"/>
<line x1="604.1" y1="153" x2="607.2" y2="194" stroke="#2aa2d6" stroke-width="2.2"/>
<line x1="622.0" y1="153" x2="632.5" y2="194" stroke="#0d6c9c" stroke-width="6.5"/>
<line x1="621.4" y1="153" x2="631.7" y2="194" stroke="#2aa2d6" stroke-width="2.2"/>
<line x1="638.9" y1="153" x2="656.5" y2="194" stroke="#0d6c9c" stroke-width="6.5"/>
<line x1="638.3" y1="153" x2="655.7" y2="194" stroke="#2aa2d6" stroke-width="2.2"/>
<path d="M542.0,156.8 L543.8,156.0 L545.7,155.1 L547.5,154.3 L549.3,153.6 L551.2,153.1 L553.0,152.9 L554.8,153.0 L556.7,153.3 L558.5,153.9 L560.3,154.6 L562.2,155.5 L564.0,156.3 L565.8,157.1 L567.7,157.7 L569.5,158.0 L571.3,158.1 L573.2,157.9 L575.0,157.4 L576.8,156.8 L578.7,156.0 L580.5,155.1 L582.3,154.3 L584.2,153.6 L586.0,153.1 L587.8,152.9 L589.7,153.0 L591.5,153.3 L593.3,153.9 L595.2,154.7 L597.0,155.5 L598.8,156.3 L600.7,157.1 L602.5,157.7 L604.3,158.0 L606.2,158.1 L608.0,157.9 L609.8,157.4 L611.7,156.7 L613.5,155.9 L615.3,155.0 L617.2,154.2 L619.0,153.6 L620.8,153.1 L622.7,152.9 L624.5,153.0 L626.3,153.3 L628.2,153.9 L630.0,154.7 L631.8,155.5 L633.7,156.4 L635.5,157.1 L637.3,157.7 L639.2,158.0 L641.0,158.1 L642.8,157.9 L644.7,157.4 L646.5,156.7 L648.3,155.9 L650.2,155.0 L652.0,154.2" fill="none" stroke="#0d6890" stroke-width="5.4" stroke-linecap="round" stroke-linejoin="round"/>
<path d="M542.0,156.8 L543.8,156.0 L545.7,155.1 L547.5,154.3 L549.3,153.6 L551.2,153.1 L553.0,152.9 L554.8,153.0 L556.7,153.3 L558.5,153.9 L560.3,154.6 L562.2,155.5 L564.0,156.3 L565.8,157.1 L567.7,157.7 L569.5,158.0 L571.3,158.1 L573.2,157.9 L575.0,157.4 L576.8,156.8 L578.7,156.0 L580.5,155.1 L582.3,154.3 L584.2,153.6 L586.0,153.1 L587.8,152.9 L589.7,153.0 L591.5,153.3 L593.3,153.9 L595.2,154.7 L597.0,155.5 L598.8,156.3 L600.7,157.1 L602.5,157.7 L604.3,158.0 L606.2,158.1 L608.0,157.9 L609.8,157.4 L611.7,156.7 L613.5,155.9 L615.3,155.0 L617.2,154.2 L619.0,153.6 L620.8,153.1 L622.7,152.9 L624.5,153.0 L626.3,153.3 L628.2,153.9 L630.0,154.7 L631.8,155.5 L633.7,156.4 L635.5,157.1 L637.3,157.7 L639.2,158.0 L641.0,158.1 L642.8,157.9 L644.7,157.4 L646.5,156.7 L648.3,155.9 L650.2,155.0 L652.0,154.2" fill="none" stroke="#2ca2d2" stroke-width="2.4" stroke-linecap="round" stroke-linejoin="round" transform="translate(0,-0.8)"/>
<path d="M537.1,162.3 L539.1,163.3 L541.1,164.5 L543.1,165.6 L545.1,166.5 L547.1,167.1 L549.1,167.4 L551.1,167.4 L553.1,166.9 L555.1,166.2 L557.1,165.2 L559.1,164.1 L561.1,162.9 L563.1,161.9 L565.1,161.1 L567.1,160.7 L569.1,160.5 L571.1,160.8 L573.0,161.4 L575.0,162.3 L577.0,163.4 L579.0,164.5 L581.0,165.6 L583.0,166.5 L585.0,167.2 L587.0,167.4 L589.0,167.4 L591.0,166.9 L593.0,166.1 L595.0,165.1 L597.0,164.0 L599.0,162.9 L601.0,161.9 L603.0,161.1 L605.0,160.6 L607.0,160.6 L609.0,160.8 L611.0,161.5 L613.0,162.4 L615.0,163.5 L617.0,164.6 L619.0,165.7 L621.0,166.6 L622.9,167.2 L624.9,167.5 L626.9,167.3 L628.9,166.9 L630.9,166.1 L632.9,165.1 L634.9,163.9 L636.9,162.8 L638.9,161.8 L640.9,161.1 L642.9,160.6 L644.9,160.6 L646.9,160.9 L648.9,161.5 L650.9,162.4 L652.9,163.5 L654.9,164.7 L656.9,165.7" fill="none" stroke="#0d6890" stroke-width="6.3" stroke-linecap="round" stroke-linejoin="round"/>
<path d="M537.1,162.3 L539.1,163.3 L541.1,164.5 L543.1,165.6 L545.1,166.5 L547.1,167.1 L549.1,167.4 L551.1,167.4 L553.1,166.9 L555.1,166.2 L557.1,165.2 L559.1,164.1 L561.1,162.9 L563.1,161.9 L565.1,161.1 L567.1,160.7 L569.1,160.5 L571.1,160.8 L573.0,161.4 L575.0,162.3 L577.0,163.4 L579.0,164.5 L581.0,165.6 L583.0,166.5 L585.0,167.2 L587.0,167.4 L589.0,167.4 L591.0,166.9 L593.0,166.1 L595.0,165.1 L597.0,164.0 L599.0,162.9 L601.0,161.9 L603.0,161.1 L605.0,160.6 L607.0,160.6 L609.0,160.8 L611.0,161.5 L613.0,162.4 L615.0,163.5 L617.0,164.6 L619.0,165.7 L621.0,166.6 L622.9,167.2 L624.9,167.5 L626.9,167.3 L628.9,166.9 L630.9,166.1 L632.9,165.1 L634.9,163.9 L636.9,162.8 L638.9,161.8 L640.9,161.1 L642.9,160.6 L644.9,160.6 L646.9,160.9 L648.9,161.5 L650.9,162.4 L652.9,163.5 L654.9,164.7 L656.9,165.7" fill="none" stroke="#2ca2d2" stroke-width="2.8" stroke-linecap="round" stroke-linejoin="round" transform="translate(0,-0.8)"/>
<path d="M531.9,175.2 L534.1,173.8 L536.3,172.4 L538.4,171.0 L540.6,169.9 L542.8,169.0 L545.0,168.6 L547.1,168.7 L549.3,169.3 L551.5,170.2 L553.6,171.5 L555.8,172.9 L558.0,174.4 L560.1,175.6 L562.3,176.6 L564.5,177.2 L566.6,177.4 L568.8,177.0 L571.0,176.3 L573.1,175.1 L575.3,173.8 L577.5,172.3 L579.7,170.9 L581.8,169.8 L584.0,169.0 L586.2,168.6 L588.3,168.8 L590.5,169.3 L592.7,170.3 L594.8,171.6 L597.0,173.0 L599.2,174.4 L601.3,175.7 L603.5,176.7 L605.7,177.2 L607.8,177.4 L610.0,177.0 L612.2,176.2 L614.3,175.1 L616.5,173.7 L618.7,172.2 L620.9,170.9 L623.0,169.7 L625.2,169.0 L627.4,168.6 L629.5,168.8 L631.7,169.4 L633.9,170.4 L636.0,171.6 L638.2,173.1 L640.4,174.5 L642.5,175.8 L644.7,176.7 L646.9,177.3 L649.0,177.4 L651.2,177.0 L653.4,176.1 L655.6,175.0 L657.7,173.6 L659.9,172.2 L662.1,170.8" fill="none" stroke="#0d6890" stroke-width="7.2" stroke-linecap="round" stroke-linejoin="round"/>
<path d="M531.9,175.2 L534.1,173.8 L536.3,172.4 L538.4,171.0 L540.6,169.9 L542.8,169.0 L545.0,168.6 L547.1,168.7 L549.3,169.3 L551.5,170.2 L553.6,171.5 L555.8,172.9 L558.0,174.4 L560.1,175.6 L562.3,176.6 L564.5,177.2 L566.6,177.4 L568.8,177.0 L571.0,176.3 L573.1,175.1 L575.3,173.8 L577.5,172.3 L579.7,170.9 L581.8,169.8 L584.0,169.0 L586.2,168.6 L588.3,168.8 L590.5,169.3 L592.7,170.3 L594.8,171.6 L597.0,173.0 L599.2,174.4 L601.3,175.7 L603.5,176.7 L605.7,177.2 L607.8,177.4 L610.0,177.0 L612.2,176.2 L614.3,175.1 L616.5,173.7 L618.7,172.2 L620.9,170.9 L623.0,169.7 L625.2,169.0 L627.4,168.6 L629.5,168.8 L631.7,169.4 L633.9,170.4 L636.0,171.6 L638.2,173.1 L640.4,174.5 L642.5,175.8 L644.7,176.7 L646.9,177.3 L649.0,177.4 L651.2,177.0 L653.4,176.1 L655.6,175.0 L657.7,173.6 L659.9,172.2 L662.1,170.8" fill="none" stroke="#2ca2d2" stroke-width="3.2" stroke-linecap="round" stroke-linejoin="round" transform="translate(0,-0.8)"/>
<path d="M526.5,179.8 L528.8,181.5 L531.2,183.2 L533.5,184.9 L535.9,186.3 L538.2,187.3 L540.6,187.8 L542.9,187.7 L545.3,187.0 L547.6,185.9 L550.0,184.3 L552.3,182.6 L554.7,180.9 L557.0,179.3 L559.4,178.1 L561.7,177.3 L564.1,177.2 L566.4,177.6 L568.8,178.5 L571.1,179.9 L573.5,181.6 L575.8,183.3 L578.2,185.0 L580.5,186.4 L582.9,187.4 L585.2,187.8 L587.6,187.7 L589.9,187.0 L592.3,185.8 L594.6,184.2 L597.0,182.5 L599.4,180.8 L601.7,179.2 L604.1,178.0 L606.4,177.3 L608.8,177.2 L611.1,177.6 L613.5,178.6 L615.8,180.0 L618.2,181.7 L620.5,183.4 L622.9,185.1 L625.2,186.5 L627.6,187.4 L629.9,187.8 L632.3,187.7 L634.6,186.9 L637.0,185.7 L639.3,184.1 L641.7,182.4 L644.0,180.7 L646.4,179.1 L648.7,178.0 L651.1,177.3 L653.4,177.2 L655.8,177.7 L658.1,178.7 L660.5,180.1 L662.8,181.8 L665.2,183.5 L667.5,185.2" fill="none" stroke="#0d6890" stroke-width="8.1" stroke-linecap="round" stroke-linejoin="round"/>
<path d="M526.5,179.8 L528.8,181.5 L531.2,183.2 L533.5,184.9 L535.9,186.3 L538.2,187.3 L540.6,187.8 L542.9,187.7 L545.3,187.0 L547.6,185.9 L550.0,184.3 L552.3,182.6 L554.7,180.9 L557.0,179.3 L559.4,178.1 L561.7,177.3 L564.1,177.2 L566.4,177.6 L568.8,178.5 L571.1,179.9 L573.5,181.6 L575.8,183.3 L578.2,185.0 L580.5,186.4 L582.9,187.4 L585.2,187.8 L587.6,187.7 L589.9,187.0 L592.3,185.8 L594.6,184.2 L597.0,182.5 L599.4,180.8 L601.7,179.2 L604.1,178.0 L606.4,177.3 L608.8,177.2 L611.1,177.6 L613.5,178.6 L615.8,180.0 L618.2,181.7 L620.5,183.4 L622.9,185.1 L625.2,186.5 L627.6,187.4 L629.9,187.8 L632.3,187.7 L634.6,186.9 L637.0,185.7 L639.3,184.1 L641.7,182.4 L644.0,180.7 L646.4,179.1 L648.7,178.0 L651.1,177.3 L653.4,177.2 L655.8,177.7 L658.1,178.7 L660.5,180.1 L662.8,181.8 L665.2,183.5 L667.5,185.2" fill="none" stroke="#2ca2d2" stroke-width="3.7" stroke-linecap="round" stroke-linejoin="round" transform="translate(0,-0.8)"/>
<path d="M521.6,194.1 L524.1,192.2 L526.6,190.1 L529.1,188.2 L531.6,186.5 L534.1,185.4 L536.7,184.8 L539.2,185.0 L541.7,185.7 L544.2,187.1 L546.7,188.9 L549.2,190.9 L551.7,192.9 L554.3,194.7 L556.8,196.1 L559.3,197.0 L561.8,197.2 L564.3,196.7 L566.8,195.6 L569.3,194.0 L571.9,192.1 L574.4,190.0 L576.9,188.1 L579.4,186.5 L581.9,185.3 L584.4,184.8 L586.9,185.0 L589.5,185.8 L592.0,187.2 L594.5,189.0 L597.0,191.0 L599.5,193.0 L602.0,194.8 L604.5,196.2 L607.1,197.0 L609.6,197.2 L612.1,196.7 L614.6,195.5 L617.1,193.9 L619.6,192.0 L622.1,189.9 L624.7,188.0 L627.2,186.4 L629.7,185.3 L632.2,184.8 L634.7,185.0 L637.2,185.9 L639.7,187.3 L642.3,189.1 L644.8,191.1 L647.3,193.1 L649.8,194.9 L652.3,196.3 L654.8,197.0 L657.3,197.2 L659.9,196.6 L662.4,195.5 L664.9,193.8 L667.4,191.9 L669.9,189.8 L672.4,187.9" fill="none" stroke="#0d6890" stroke-width="9.0" stroke-linecap="round" stroke-linejoin="round"/>
<path d="M521.6,194.1 L524.1,192.2 L526.6,190.1 L529.1,188.2 L531.6,186.5 L534.1,185.4 L536.7,184.8 L539.2,185.0 L541.7,185.7 L544.2,187.1 L546.7,188.9 L549.2,190.9 L551.7,192.9 L554.3,194.7 L556.8,196.1 L559.3,197.0 L561.8,197.2 L564.3,196.7 L566.8,195.6 L569.3,194.0 L571.9,192.1 L574.4,190.0 L576.9,188.1 L579.4,186.5 L581.9,185.3 L584.4,184.8 L586.9,185.0 L589.5,185.8 L592.0,187.2 L594.5,189.0 L597.0,191.0 L599.5,193.0 L602.0,194.8 L604.5,196.2 L607.1,197.0 L609.6,197.2 L612.1,196.7 L614.6,195.5 L617.1,193.9 L619.6,192.0 L622.1,189.9 L624.7,188.0 L627.2,186.4 L629.7,185.3 L632.2,184.8 L634.7,185.0 L637.2,185.9 L639.7,187.3 L642.3,189.1 L644.8,191.1 L647.3,193.1 L649.8,194.9 L652.3,196.3 L654.8,197.0 L657.3,197.2 L659.9,196.6 L662.4,195.5 L664.9,193.8 L667.4,191.9 L669.9,189.8 L672.4,187.9" fill="none" stroke="#2ca2d2" stroke-width="4.0" stroke-linecap="round" stroke-linejoin="round" transform="translate(0,-0.8)"/>
<circle cx="537.0" cy="193" r="5.0" fill="#0b6494"/><circle cx="536.5" cy="192.3" r="3.3" fill="#2a9ed2"/>
<circle cx="584.0" cy="193" r="5.0" fill="#0b6494"/><circle cx="583.5" cy="192.3" r="3.3" fill="#2a9ed2"/>
<circle cx="632.5" cy="193" r="5.0" fill="#0b6494"/><circle cx="632.0" cy="192.3" r="3.3" fill="#2a9ed2"/>
<path d="M556.2,186 L556.2,197 Q560.5,201.5 564.8,197 L564.8,186 Z" fill="url(#tubeH)"/>
<path d="M603.7,186 L603.7,197 Q608.0,201.5 612.3,197 L612.3,186 Z" fill="url(#tubeH)"/>
<path d="M652.2,186 L652.2,197 Q656.5,201.5 660.8,197 L660.8,186 Z" fill="url(#tubeH)"/>
<polyline points="578.6,198 583,188 585,199 590,190 592,199.5 597,193 599,200.5 603,197.5 606,200.5 609,199.5" fill="none" stroke="#ff10ff" stroke-width="1.5" stroke-linejoin="round"/>
<polyline points="556.2,203.2 559.8,204.2 555.7,207 559.4,208 557.8,211.5" fill="none" stroke="#111" stroke-width="1.3" stroke-linejoin="round"/>
<polygon points="558.4,213.2 555.8,209.6 559.8,210.4" fill="#111"/>
<polyline points="624.6,203.2 628.2,204.2 624.1,207 627.8,208 626.2,211.5" fill="none" stroke="#111" stroke-width="1.3" stroke-linejoin="round"/>
<polygon points="626.8,213.2 624.2,209.6 628.2,210.4" fill="#111"/>
<line x1="665.5" y1="214.8" x2="659.8" y2="204.2" stroke="#111" stroke-width="1.4"/>
<polygon points="658.3,201.6 657.6,207.4 662.4,205.2" fill="#111"/>
<defs>
<radialGradient id="ball" cx="0.38" cy="0.35" r="0.7">
<stop offset="0" stop-color="#ffe0e0"/><stop offset="0.18" stop-color="#ff5050"/><stop offset="0.45" stop-color="#ff0000"/><stop offset="1" stop-color="#d00000"/></radialGradient>
<pattern id="flatmesh" width="6.3" height="4.1" patternUnits="userSpaceOnUse" x="74" y="316.2" patternTransform="skewX(-28)">
<rect width="6.3" height="4.1" fill="#a6c8de"/>
<rect x="0" y="0.7" width="6.3" height="2.5" fill="#1f86c4"/>
<rect x="2.0" y="0" width="2.3" height="4.1" fill="#1570aa"/>
<rect x="0.3" y="0.9" width="1.9" height="1.0" fill="#48b6ea"/>
<rect x="4.4" y="0.9" width="1.6" height="1.0" fill="#3aa8e0"/>
</pattern>
<pattern id="bentmesh" width="4.6" height="4.6" patternUnits="userSpaceOnUse">
<rect width="4.6" height="4.6" fill="#1c80be"/>
<circle cx="1.3" cy="1.3" r="1.0" fill="#38a6de"/>
<circle cx="3.6" cy="3.5" r="0.75" fill="#0a4e80"/>
</pattern>
</defs>
<line x1="64.30" y1="276.60" x2="82.40" y2="276.60" stroke="#ff0000" stroke-width="1.4" />
<line x1="94.38" y1="277.13" x2="112.62" y2="278.77" stroke="#ff0000" stroke-width="1.4" />
<line x1="124.60" y1="279.42" x2="142.70" y2="279.78" stroke="#ff0000" stroke-width="1.4" />
<line x1="154.68" y1="280.40" x2="172.82" y2="281.90" stroke="#ff0000" stroke-width="1.4" />
<line x1="184.73" y1="283.32" x2="203.07" y2="286.18" stroke="#ff0000" stroke-width="1.4" />
<circle cx="58.3" cy="276.6" r="4.1" fill="url(#ball)"/>
<circle cx="88.4" cy="276.6" r="4.1" fill="url(#ball)"/>
<circle cx="118.6" cy="279.3" r="4.1" fill="url(#ball)"/>
<circle cx="148.7" cy="279.9" r="4.1" fill="url(#ball)"/>
<circle cx="178.8" cy="282.4" r="4.1" fill="url(#ball)"/>
<circle cx="209.0" cy="287.1" r="4.1" fill="url(#ball)"/>
<path d="M83.4,316.1 L184.6,316.1 L192.4,332.5 L74.2,332.5 Z" fill="url(#flatmesh)"/>
<rect x="75.0" y="330.8" width="3.0" height="5.4" rx="1.4" fill="#1a7cb8"/>
<rect x="81.3" y="330.8" width="3.0" height="5.4" rx="1.4" fill="#1a7cb8"/>
<rect x="87.6" y="330.8" width="3.0" height="5.4" rx="1.4" fill="#1a7cb8"/>
<rect x="93.9" y="330.8" width="3.0" height="5.4" rx="1.4" fill="#1a7cb8"/>
<rect x="100.2" y="330.8" width="3.0" height="5.4" rx="1.4" fill="#1a7cb8"/>
<rect x="106.5" y="330.8" width="3.0" height="5.4" rx="1.4" fill="#1a7cb8"/>
<rect x="112.8" y="330.8" width="3.0" height="5.4" rx="1.4" fill="#1a7cb8"/>
<rect x="119.1" y="330.8" width="3.0" height="5.4" rx="1.4" fill="#1a7cb8"/>
<rect x="125.4" y="330.8" width="3.0" height="5.4" rx="1.4" fill="#1a7cb8"/>
<rect x="131.7" y="330.8" width="3.0" height="5.4" rx="1.4" fill="#1a7cb8"/>
<rect x="138.0" y="330.8" width="3.0" height="5.4" rx="1.4" fill="#1a7cb8"/>
<rect x="144.3" y="330.8" width="3.0" height="5.4" rx="1.4" fill="#1a7cb8"/>
<rect x="150.6" y="330.8" width="3.0" height="5.4" rx="1.4" fill="#1a7cb8"/>
<rect x="156.9" y="330.8" width="3.0" height="5.4" rx="1.4" fill="#1a7cb8"/>
<rect x="163.2" y="330.8" width="3.0" height="5.4" rx="1.4" fill="#1a7cb8"/>
<rect x="169.5" y="330.8" width="3.0" height="5.4" rx="1.4" fill="#1a7cb8"/>
<rect x="175.8" y="330.8" width="3.0" height="5.4" rx="1.4" fill="#1a7cb8"/>
<rect x="182.1" y="330.8" width="3.0" height="5.4" rx="1.4" fill="#1a7cb8"/>
<rect x="188.4" y="330.8" width="3.0" height="5.4" rx="1.4" fill="#1a7cb8"/>
<ellipse cx="86.0" cy="316.3" rx="2.0" ry="1.3" fill="#2a92cc"/>
<ellipse cx="92.0" cy="316.3" rx="2.0" ry="1.3" fill="#2a92cc"/>
<ellipse cx="98.0" cy="316.3" rx="2.0" ry="1.3" fill="#2a92cc"/>
<ellipse cx="104.0" cy="316.3" rx="2.0" ry="1.3" fill="#2a92cc"/>
<ellipse cx="110.0" cy="316.3" rx="2.0" ry="1.3" fill="#2a92cc"/>
<ellipse cx="116.0" cy="316.3" rx="2.0" ry="1.3" fill="#2a92cc"/>
<ellipse cx="122.0" cy="316.3" rx="2.0" ry="1.3" fill="#2a92cc"/>
<ellipse cx="128.0" cy="316.3" rx="2.0" ry="1.3" fill="#2a92cc"/>
<ellipse cx="134.0" cy="316.3" rx="2.0" ry="1.3" fill="#2a92cc"/>
<ellipse cx="140.0" cy="316.3" rx="2.0" ry="1.3" fill="#2a92cc"/>
<ellipse cx="146.0" cy="316.3" rx="2.0" ry="1.3" fill="#2a92cc"/>
<ellipse cx="152.0" cy="316.3" rx="2.0" ry="1.3" fill="#2a92cc"/>
<ellipse cx="158.0" cy="316.3" rx="2.0" ry="1.3" fill="#2a92cc"/>
<ellipse cx="164.0" cy="316.3" rx="2.0" ry="1.3" fill="#2a92cc"/>
<ellipse cx="170.0" cy="316.3" rx="2.0" ry="1.3" fill="#2a92cc"/>
<ellipse cx="176.0" cy="316.3" rx="2.0" ry="1.3" fill="#2a92cc"/>
<ellipse cx="182.0" cy="316.3" rx="2.0" ry="1.3" fill="#2a92cc"/>
<path d="M96.5,345 C86,350 82.5,368 93.5,375.5" fill="none" stroke="#7f9f55" stroke-width="3.2" stroke-linecap="butt"/>
<path d="M96.5,345 C86,350 82.5,368 93.5,375.5" fill="none" stroke="#e6efd8" stroke-width="1.4" stroke-linecap="butt"/>
<polygon points="97.2,378.4 90.2,377.5 95.2,372.5" fill="#e6efd8" stroke="#7f9f55" stroke-width="0.9"/>
<path d="M171.5,379.5 C182,374 185.5,356 174.5,348.5" fill="none" stroke="#7f9f55" stroke-width="3.2" stroke-linecap="butt"/>
<path d="M171.5,379.5 C182,374 185.5,356 174.5,348.5" fill="none" stroke="#e6efd8" stroke-width="1.4" stroke-linecap="butt"/>
<polygon points="171.2,345.6 178.2,346.6 173.2,351.6" fill="#e6efd8" stroke="#7f9f55" stroke-width="0.9"/>
<text x="133.90" y="358.60" font-size="13.6" text-anchor="middle" fill="#111" >Repeated</text>
<text x="133.90" y="373.80" font-size="13.6" text-anchor="middle" fill="#111" >bending</text>
<path d="M138.40,384.00 C140.15,384.15 142.52,384.73 144.50,385.50 C146.48,386.27 148.63,387.35 150.30,388.60 C151.97,389.85 153.40,391.45 154.50,393.00 C155.60,394.55 156.28,396.07 156.90,397.90 C157.52,399.73 157.98,401.80 158.20,404.00 C158.42,406.20 158.27,408.43 158.20,411.10 C158.13,413.77 158.02,417.13 157.80,420.00 C157.58,422.87 157.62,425.88 156.90,428.30 C156.18,430.72 154.82,432.85 153.50,434.50 C152.18,436.15 150.38,437.78 149.00,438.20 C147.62,438.62 145.90,438.37 145.20,437.00 C144.50,435.63 144.95,432.12 144.80,430.00 C144.65,427.88 144.40,426.63 144.30,424.30 C144.20,421.97 144.30,418.65 144.20,416.00 C144.10,413.35 144.10,410.32 143.70,408.40 C143.30,406.48 142.47,405.60 141.80,404.50 C141.13,403.40 140.37,402.80 139.70,401.80 C139.03,400.80 138.47,399.38 137.80,398.50 C137.13,397.62 136.50,397.08 135.70,396.50 C134.90,395.92 133.88,395.33 133.00,395.00 C132.12,394.67 131.18,394.37 130.40,394.50 C129.62,394.63 128.85,395.23 128.30,395.80 C127.75,396.37 127.27,396.37 127.10,397.90 C126.93,399.43 127.18,402.82 127.30,405.00 C127.42,407.18 127.72,408.88 127.80,411.00 C127.88,413.12 127.88,415.87 127.80,417.70 C127.72,419.53 127.52,420.67 127.30,422.00 C127.08,423.33 127.13,424.37 126.50,425.70 C125.87,427.03 124.60,428.78 123.50,430.00 C122.40,431.22 121.23,432.50 119.90,433.00 C118.57,433.50 116.93,433.12 115.50,433.00 C114.07,432.88 112.18,433.30 111.30,432.30 C110.42,431.30 110.43,428.77 110.20,427.00 C109.97,425.23 109.98,423.62 109.90,421.70 C109.82,419.78 109.70,417.48 109.70,415.50 C109.70,413.52 109.68,411.80 109.90,409.80 C110.12,407.80 110.45,405.48 111.00,403.50 C111.55,401.52 112.33,399.45 113.20,397.90 C114.07,396.35 115.08,395.32 116.20,394.20 C117.32,393.08 118.52,392.18 119.90,391.20 C121.28,390.22 122.90,389.17 124.50,388.30 C126.10,387.43 127.92,386.62 129.50,386.00 C131.08,385.38 132.52,384.93 134.00,384.60 C135.48,384.27 136.65,383.85 138.40,384.00 Z" fill="url(#bentmesh)" stroke="#1a7cba" stroke-width="1.6" stroke-dasharray="1.2,1.6" stroke-linecap="round"/>
<path d="M113,398 C116,393 121,390 127,389 C128,395 127.5,405 127.8,417.7 C127,424 124,430 119.9,433 L111.3,432.3 C109.8,420 109.5,408 113,398 Z" fill="#0c5a8e" opacity="0.35"/>
<defs>
<linearGradient id="cbar" x1="0" y1="0" x2="1" y2="0">
<stop offset="0" stop-color="#0e0650"/>
<stop offset="0.07" stop-color="#220890"/>
<stop offset="0.14" stop-color="#3c0aa8"/>
<stop offset="0.20" stop-color="#700ab0"/>
<stop offset="0.25" stop-color="#a00aaa"/>
<stop offset="0.30" stop-color="#c0109a"/>
<stop offset="0.36" stop-color="#d81a78"/>
<stop offset="0.43" stop-color="#e82e48"/>
<stop offset="0.50" stop-color="#f2461e"/>
<stop offset="0.57" stop-color="#f87010"/>
<stop offset="0.64" stop-color="#fca008"/>
<stop offset="0.71" stop-color="#fcc800"/>
<stop offset="0.78" stop-color="#f8e410"/>
<stop offset="0.85" stop-color="#f6f040"/>
<stop offset="0.90" stop-color="#f4f490"/>
<stop offset="0.95" stop-color="#f0f4d8"/>
<stop offset="1" stop-color="#eef2ee"/>
</linearGradient>
<filter id="glow3" filterUnits="userSpaceOnUse" x="280" y="290" width="400" height="110"><feGaussianBlur stdDeviation="2.6"/></filter>
<filter id="glow2" filterUnits="userSpaceOnUse" x="280" y="290" width="400" height="110"><feGaussianBlur stdDeviation="1.3"/></filter>
<filter id="glow1" filterUnits="userSpaceOnUse" x="280" y="290" width="400" height="110"><feGaussianBlur stdDeviation="0.7"/></filter>
<linearGradient id="thbg" x1="0" y1="0" x2="0" y2="1"><stop offset="0" stop-color="#1c0870"/><stop offset="1" stop-color="#220a82"/></linearGradient>
<linearGradient id="photobg" x1="0" y1="0" x2="0" y2="1"><stop offset="0" stop-color="#c9c9c9"/><stop offset="1" stop-color="#d6d6d4"/></linearGradient>
<pattern id="braid" width="5" height="4" patternUnits="userSpaceOnUse">
<rect width="5" height="4" fill="#7a7a76"/><path d="M0,4 L2.5,0 L5,4" fill="none" stroke="#b4b2ac" stroke-width="1"/><circle cx="2.5" cy="2.8" r="0.7" fill="#484846"/></pattern>
<clipPath id="th1"><rect x="300.1" y="353.9" width="100.8" height="38.7"/></clipPath>
<clipPath id="th2"><rect x="432.8" y="353.9" width="100.4" height="38.7"/></clipPath>
<clipPath id="th3"><rect x="566.1" y="353.9" width="100" height="38.7"/></clipPath>
</defs>
<line x1="356.10" y1="276.30" x2="477.60" y2="276.30" stroke="#ff0000" stroke-width="1.4" />
<line x1="489.60" y1="276.30" x2="610.00" y2="276.30" stroke="#ff0000" stroke-width="1.4" />
<circle cx="350.1" cy="276.3" r="4.0" fill="url(#ball)"/>
<circle cx="483.6" cy="276.3" r="4.0" fill="url(#ball)"/>
<circle cx="616.0" cy="276.3" r="4.0" fill="url(#ball)"/>
<clipPath id="ph1"><rect x="300.1" y="301.7" width="100.9" height="38.7"/></clipPath>
<clipPath id="ph2"><rect x="432.8" y="301.2" width="100.4" height="39.2"/></clipPath>
<clipPath id="ph3"><rect x="566.1" y="301.6" width="99.9" height="38.1"/></clipPath>
<g clip-path="url(#ph1)">
<rect x="300.10" y="301.70" width="100.90" height="38.70" fill="url(#photobg)" />
<path d="M302,321 C330,319.5 360,320.5 401,321.5" stroke="#a6a49e" stroke-width="13.5" fill="none" opacity="0.55" filter="url(#glow1)"/>
<path d="M302,321 C330,319.5 360,320.5 401,321.5" stroke="url(#braid)" stroke-width="10.5" fill="none"/>
<path d="M370,321 C380,321 390,321.2 398,321.5" stroke="#b4b2ac" stroke-width="9" fill="none" opacity="0.55"/>
<path d="M300,321 L308,321" stroke="#b89a78" stroke-width="7" fill="none" opacity="0.8"/>
<path d="M395,321.5 L401,321.5" stroke="#b89a78" stroke-width="6" fill="none" opacity="0.8"/>
<line x1="302.70" y1="304.00" x2="302.70" y2="340.40" stroke="#4a4a4a" stroke-width="1.1" />
<line x1="398.60" y1="305.00" x2="398.60" y2="322.00" stroke="#6a6a6a" stroke-width="0.8" />
</g>
<g clip-path="url(#ph2)">
<rect x="432.80" y="301.20" width="100.40" height="39.20" fill="url(#photobg)" />
<line x1="432.80" y1="318.50" x2="533.20" y2="318.50" stroke="#a0a0a0" stroke-width="0.6" />
<ellipse cx="485" cy="322" rx="10" ry="14" fill="#b4b4b2" opacity="0.8" filter="url(#glow1)"/>
<path d="M433,332 L472,332" stroke="#b87452" stroke-width="3.6" fill="none"/>
<path d="M433,330.6 L472,330.6" stroke="#d8a482" stroke-width="0.9" fill="none"/>
<path d="M498,331 L534,329.2" stroke="#b87452" stroke-width="4.4" fill="none"/>
<path d="M498,329.3 L534,327.5" stroke="#d8a482" stroke-width="0.9" fill="none"/>
<path d="M474.5,341 C474,333 471.5,325 471.5,317 C471.5,309 477,305.5 485,305.5 C493,305.5 498.5,309 498.5,317 C498.5,325 496.5,333 496,341" stroke="url(#braid)" stroke-width="4.5" fill="none"/>
<path d="M471.3,316 C471.3,309 477,305.5 485,305.5 C493,305.5 498.7,309 498.7,316" stroke="url(#braid)" stroke-width="6.5" fill="none"/>
</g>
<g clip-path="url(#ph3)">
<rect x="566.10" y="301.60" width="99.90" height="38.10" fill="url(#photobg)" />
<line x1="583.60" y1="301.60" x2="583.60" y2="320.00" stroke="#f0f0f0" stroke-width="0.9" />
<path d="M570,330 C585,326 600,318 612,317.5 C630,318 648,326 664,331.5" stroke="#a6a49e" stroke-width="13" fill="none" opacity="0.5" filter="url(#glow1)"/>
<path d="M570,330 C585,326 600,318 612,317.5 C630,318 648,326 664,331.5" stroke="url(#braid)" stroke-width="10" fill="none"/>
<path d="M566,333 L576,329.5" stroke="#d0a080" stroke-width="4.5" fill="none"/>
<path d="M657,330 L667,336" stroke="#d0a080" stroke-width="4.5" fill="none"/>
</g>
<g clip-path="url(#th1)">
<rect x="300.10" y="353.90" width="100.80" height="38.70" fill="url(#thbg)" />
<path d="M303.91,380.40 L308.55,382.10 L313.20,382.05 L317.85,382.00 L322.50,381.95 L327.15,381.90 L331.80,381.85 L336.45,381.80 L341.10,381.75 L345.75,381.70 L350.41,381.65 L355.06,381.60 L359.71,381.55 L364.36,381.50 L369.01,381.45 L373.66,381.40 L378.31,381.35 L382.96,381.30 L387.61,381.25 L392.27,381.20 L396.93,380.15 L397.07,366.65 L392.43,365.50 L387.79,365.35 L383.14,365.20 L378.49,365.05 L373.84,364.90 L369.19,364.75 L364.54,364.60 L359.89,364.45 L355.24,364.30 L350.59,364.15 L345.95,364.00 L341.30,363.85 L336.65,363.70 L332.00,363.55 L327.35,363.40 L322.70,363.25 L318.05,363.10 L313.40,362.95 L308.75,362.80 L304.09,364.40 Z" fill="#6a12a8" opacity="0.7" filter="url(#glow3)" stroke="#6a12a8" stroke-width="1.5" stroke-linejoin="round"/>
<path d="M303.95,376.90 L308.58,378.60 L313.23,378.55 L317.89,378.50 L322.54,378.45 L327.19,378.40 L331.84,378.35 L336.49,378.30 L341.14,378.25 L345.79,378.20 L350.44,378.15 L355.09,378.10 L359.75,378.05 L364.40,378.00 L369.05,377.95 L373.70,377.90 L378.35,377.85 L383.00,377.80 L387.65,377.75 L392.30,377.70 L396.97,376.65 L397.03,370.15 L392.40,369.00 L387.75,368.85 L383.10,368.70 L378.45,368.55 L373.80,368.40 L369.15,368.25 L364.50,368.10 L359.85,367.95 L355.21,367.80 L350.56,367.65 L345.91,367.50 L341.26,367.35 L336.61,367.20 L331.96,367.05 L327.31,366.90 L322.66,366.75 L318.01,366.60 L313.37,366.45 L308.72,366.30 L304.05,367.90 Z" fill="#de2c50" opacity="1" filter="url(#glow2)" stroke="#de2c50" stroke-width="1.5" stroke-linejoin="round"/>
<path d="M303.96,376.00 L308.60,377.37 L313.25,377.34 L317.90,377.31 L322.55,377.28 L327.20,377.25 L331.85,377.22 L336.50,377.19 L341.15,377.16 L345.80,377.13 L350.45,377.10 L355.11,377.07 L359.76,377.04 L364.41,377.01 L369.06,376.98 L373.71,376.95 L378.36,376.92 L383.01,376.89 L387.66,376.86 L392.31,376.83 L396.97,376.00 L397.03,370.80 L392.39,369.87 L387.74,369.74 L383.09,369.61 L378.44,369.48 L373.79,369.35 L369.14,369.22 L364.49,369.09 L359.84,368.96 L355.19,368.83 L350.55,368.70 L345.90,368.57 L341.25,368.44 L336.60,368.31 L331.95,368.18 L327.30,368.05 L322.65,367.92 L318.00,367.79 L313.35,367.66 L308.70,367.53 L304.04,368.80 Z" fill="#fa8c10" opacity="1" filter="url(#glow1)" stroke="#fa8c10" stroke-width="1.5" stroke-linejoin="round"/>
<path d="M303.97,375.01 L308.61,376.02 L313.26,376.01 L317.91,376.00 L322.56,375.99 L327.21,375.98 L331.86,375.98 L336.52,375.97 L341.17,375.96 L345.82,375.95 L350.47,375.94 L355.12,375.94 L359.77,375.93 L364.42,375.92 L369.07,375.91 L373.72,375.90 L378.37,375.90 L383.02,375.89 L387.67,375.88 L392.32,375.87 L396.98,375.28 L397.02,371.52 L392.38,370.83 L387.73,370.72 L383.08,370.61 L378.43,370.50 L373.78,370.40 L369.13,370.29 L364.48,370.18 L359.83,370.07 L355.18,369.96 L350.53,369.86 L345.88,369.75 L341.23,369.64 L336.58,369.53 L331.94,369.42 L327.29,369.32 L322.64,369.21 L317.99,369.10 L313.34,368.99 L308.69,368.88 L304.03,369.79 Z" fill="#ffd838" opacity="1" filter="url(#glow1)" stroke="#ffd838" stroke-width="1.5" stroke-linejoin="round"/>
<path d="M303.99,373.57 L308.63,374.05 L313.28,374.07 L317.93,374.10 L322.58,374.12 L327.23,374.14 L331.88,374.17 L336.53,374.19 L341.18,374.22 L345.84,374.24 L350.49,374.26 L355.14,374.29 L359.79,374.31 L364.44,374.34 L369.09,374.36 L373.74,374.38 L378.39,374.41 L383.04,374.43 L387.69,374.46 L392.34,374.48 L396.99,374.24 L397.01,372.56 L392.36,372.22 L387.71,372.14 L383.06,372.07 L378.41,371.99 L373.76,371.92 L369.11,371.84 L364.46,371.76 L359.81,371.69 L355.16,371.61 L350.51,371.54 L345.86,371.46 L341.22,371.38 L336.57,371.31 L331.92,371.23 L327.27,371.16 L322.62,371.08 L317.97,371.00 L313.32,370.93 L308.67,370.85 L304.01,371.23 Z" fill="#fff2a8" opacity="0.9" filter="url(#glow1)" stroke="#fff2a8" stroke-width="0.8" stroke-linejoin="round"/>
</g>
<g clip-path="url(#th2)">
<rect x="432.80" y="353.90" width="100.40" height="38.70" fill="url(#thbg)" />
<path d="M478.46,387.96 L477.79,383.97 L477.16,380.30 L476.66,377.03 L476.33,374.17 L476.25,371.78 L476.82,369.94 L477.49,368.77 L478.13,368.19 L478.94,367.70 L479.60,367.45 L480.17,367.33 L480.79,367.23 L481.53,367.13 L482.42,367.05 L483.44,367.01 L484.50,367.00 L485.56,367.01 L486.58,367.05 L487.47,367.13 L488.21,367.23 L488.83,367.33 L489.40,367.45 L490.06,367.70 L490.85,368.16 L491.45,368.64 L492.07,369.72 L492.56,371.50 L492.37,373.85 L491.89,376.68 L491.19,379.94 L490.34,383.60 L489.41,387.58 L501.59,390.42 L502.51,386.43 L503.39,382.67 L504.16,379.05 L504.76,375.52 L505.13,372.04 L505.54,368.48 L505.30,364.72 L504.15,360.84 L502.10,357.33 L499.57,354.55 L496.72,352.47 L493.79,351.07 L490.99,350.23 L488.45,349.80 L486.28,349.63 L484.50,349.60 L482.72,349.63 L480.55,349.80 L478.01,350.23 L475.21,351.07 L472.28,352.47 L469.43,354.55 L466.90,357.33 L464.87,360.81 L463.71,364.59 L463.39,368.26 L463.67,371.76 L463.87,375.20 L464.27,378.70 L464.82,382.31 L465.46,386.06 L466.14,390.04 Z" fill="#6a12a8" opacity="0.7" filter="url(#glow3)" stroke="#6a12a8" stroke-width="1.5" stroke-linejoin="round"/>
<path d="M475.01,388.54 L474.34,384.55 L473.71,380.86 L473.19,377.50 L472.84,374.46 L472.75,371.77 L473.35,369.51 L474.14,367.75 L475.07,366.49 L476.29,365.41 L477.43,364.70 L478.53,364.24 L479.64,363.92 L480.82,363.70 L482.04,363.57 L483.30,363.51 L484.50,363.50 L485.70,363.51 L486.96,363.57 L488.18,363.70 L489.36,363.92 L490.47,364.24 L491.57,364.70 L492.71,365.41 L493.92,366.47 L494.82,367.69 L495.55,369.40 L496.06,371.65 L495.84,374.32 L495.32,377.34 L494.61,380.71 L493.75,384.39 L492.82,388.38 L498.18,389.62 L499.11,385.64 L499.97,381.90 L500.72,378.38 L501.29,375.06 L501.63,371.89 L502.06,368.80 L501.94,365.67 L501.08,362.53 L499.45,359.61 L497.40,357.30 L495.07,355.56 L492.64,354.38 L490.27,353.66 L488.07,353.28 L486.13,353.13 L484.50,353.10 L482.87,353.13 L480.93,353.28 L478.73,353.66 L476.36,354.38 L473.93,355.56 L471.60,357.30 L469.55,359.61 L467.93,362.51 L467.06,365.61 L466.86,368.69 L467.17,371.77 L467.36,374.91 L467.74,378.23 L468.28,381.75 L468.91,385.47 L469.59,389.46 Z" fill="#de2c50" opacity="1" filter="url(#glow2)" stroke="#de2c50" stroke-width="1.5" stroke-linejoin="round"/>
<path d="M474.47,388.63 L473.79,384.65 L473.17,380.95 L472.65,377.57 L472.29,374.51 L472.19,371.77 L472.70,369.43 L473.43,367.54 L474.36,366.09 L475.61,364.83 L476.85,363.96 L478.07,363.37 L479.32,362.97 L480.61,362.70 L481.93,362.54 L483.25,362.47 L484.50,362.46 L485.75,362.47 L487.07,362.54 L488.39,362.70 L489.68,362.97 L490.93,363.37 L492.15,363.96 L493.39,364.83 L494.63,366.08 L495.53,367.49 L496.20,369.34 L496.61,371.67 L496.38,374.39 L495.86,377.45 L495.14,380.83 L494.28,384.52 L493.36,388.50 L497.64,389.50 L498.57,385.51 L499.44,381.78 L500.18,378.28 L500.74,374.98 L501.08,371.87 L501.41,368.86 L501.23,365.87 L500.37,362.92 L498.77,360.19 L496.82,358.04 L494.61,356.43 L492.32,355.33 L490.06,354.66 L487.96,354.31 L486.09,354.17 L484.50,354.14 L482.91,354.17 L481.04,354.31 L478.94,354.66 L476.68,355.33 L474.39,356.43 L472.18,358.04 L470.23,360.19 L468.64,362.91 L467.77,365.82 L467.51,368.78 L467.73,371.77 L467.91,374.87 L468.28,378.16 L468.82,381.66 L469.46,385.38 L470.13,389.37 Z" fill="#fa8c10" opacity="1" filter="url(#glow1)" stroke="#fa8c10" stroke-width="1.5" stroke-linejoin="round"/>
<path d="M473.87,388.73 L473.20,384.75 L472.57,381.05 L472.05,377.65 L471.69,374.56 L471.58,371.77 L471.99,369.34 L472.65,367.30 L473.57,365.65 L474.87,364.19 L476.21,363.15 L477.56,362.42 L478.95,361.92 L480.38,361.59 L481.81,361.41 L483.20,361.33 L484.50,361.31 L485.80,361.33 L487.19,361.41 L488.62,361.59 L490.05,361.92 L491.44,362.42 L492.79,363.15 L494.13,364.19 L495.42,365.64 L496.31,367.27 L496.92,369.27 L497.23,371.70 L496.98,374.47 L496.46,377.56 L495.73,380.96 L494.87,384.65 L493.95,388.64 L497.05,389.36 L497.98,385.38 L498.85,381.65 L499.59,378.17 L500.14,374.90 L500.46,371.84 L500.69,368.93 L500.44,366.10 L499.58,363.36 L498.03,360.83 L496.18,358.85 L494.11,357.39 L491.95,356.38 L489.83,355.77 L487.84,355.44 L486.04,355.31 L484.50,355.29 L482.96,355.31 L481.16,355.44 L479.17,355.77 L477.05,356.38 L474.89,357.39 L472.82,358.85 L470.97,360.83 L469.43,363.35 L468.55,366.06 L468.23,368.87 L468.34,371.77 L468.51,374.82 L468.88,378.08 L469.42,381.56 L470.05,385.28 L470.73,389.27 Z" fill="#ffd838" opacity="1" filter="url(#glow1)" stroke="#ffd838" stroke-width="1.5" stroke-linejoin="round"/>
<path d="M473.00,388.88 L472.33,384.89 L471.70,381.19 L471.17,377.77 L470.81,374.63 L470.69,371.77 L470.95,369.21 L471.52,366.96 L472.43,365.02 L473.80,363.27 L475.27,361.96 L476.83,361.03 L478.43,360.39 L480.04,359.99 L481.63,359.76 L483.14,359.67 L484.50,359.65 L485.86,359.67 L487.37,359.76 L488.96,359.99 L490.57,360.39 L492.17,361.03 L493.73,361.96 L495.20,363.27 L496.57,365.01 L497.45,366.94 L497.96,369.18 L498.12,371.74 L497.85,374.59 L497.32,377.73 L496.59,381.15 L495.73,384.85 L494.80,388.84 L496.20,389.16 L497.12,385.18 L497.99,381.46 L498.72,378.00 L499.27,374.78 L499.57,371.80 L499.65,369.02 L499.30,366.42 L498.43,363.99 L496.96,361.76 L495.24,360.04 L493.37,358.77 L491.43,357.91 L489.50,357.37 L487.66,357.09 L485.98,356.97 L484.50,356.95 L483.02,356.97 L481.34,357.09 L479.50,357.37 L477.57,357.91 L475.63,358.77 L473.76,360.04 L472.04,361.76 L470.57,363.98 L469.68,366.40 L469.26,369.00 L469.23,371.77 L469.39,374.75 L469.76,377.96 L470.29,381.42 L470.92,385.13 L471.60,389.12 Z" fill="#fff2a8" opacity="0.9" filter="url(#glow1)" stroke="#fff2a8" stroke-width="0.8" stroke-linejoin="round"/>
</g>
<g clip-path="url(#th3)">
<rect x="566.10" y="353.90" width="100.00" height="38.70" fill="url(#thbg)" />
<path d="M617.15,371.04 L619.43,371.31 L621.54,371.65 L623.66,372.09 L625.78,372.63 L627.90,373.26 L630.02,373.98 L632.14,374.78 L634.26,375.66 L636.39,376.62 L638.52,377.64 L640.64,378.73 L642.77,379.88 L644.90,381.08 L647.02,382.33 L649.15,383.62 L651.11,385.25 L657.89,374.75 L655.52,373.60 L653.30,372.16 L651.05,370.75 L648.78,369.37 L646.47,368.04 L644.14,366.76 L641.77,365.53 L639.36,364.36 L636.92,363.26 L634.44,362.24 L631.92,361.30 L629.36,360.45 L626.76,359.70 L624.11,359.06 L621.43,358.54 L618.85,358.16 Z" fill="#6a12a8" opacity="0.7" filter="url(#glow3)" stroke="#6a12a8" stroke-width="1.5" stroke-linejoin="round"/>
<path d="M581.44,386.17 L584.35,385.99 L586.90,384.86 L589.45,383.73 L591.99,382.60 L594.54,381.48 L597.08,380.37 L599.62,379.27 L602.17,378.21 L604.71,377.17 L607.27,376.16 L609.82,375.20 L612.39,374.28 L614.96,373.41 L617.53,372.60 L620.12,371.85 L622.81,371.14 L619.19,356.06 L616.28,356.70 L613.31,357.43 L610.37,358.21 L607.47,359.05 L604.61,359.94 L601.77,360.87 L598.98,361.83 L596.21,362.82 L593.47,363.83 L590.77,364.85 L588.10,365.88 L585.46,366.90 L582.85,367.93 L580.27,368.94 L577.72,369.93 L575.56,371.83 Z" fill="#6a12a8" opacity="0.7" filter="url(#glow3)" stroke="#6a12a8" stroke-width="1.5" stroke-linejoin="round"/>
<path d="M617.61,367.57 L619.97,367.85 L622.24,368.22 L624.51,368.70 L626.77,369.28 L629.01,369.95 L631.25,370.71 L633.48,371.55 L635.70,372.47 L637.92,373.47 L640.12,374.53 L642.32,375.66 L644.51,376.84 L646.69,378.07 L648.86,379.35 L651.03,380.66 L653.01,382.31 L655.99,377.69 L653.65,376.55 L651.46,375.14 L649.26,373.76 L647.04,372.41 L644.80,371.12 L642.53,369.87 L640.24,368.68 L637.92,367.55 L635.58,366.49 L633.21,365.51 L630.81,364.62 L628.38,363.81 L625.91,363.10 L623.41,362.49 L620.88,361.99 L618.39,361.63 Z" fill="#de2c50" opacity="1" filter="url(#glow2)" stroke="#de2c50" stroke-width="1.5" stroke-linejoin="round"/>
<path d="M580.11,382.93 L583.02,382.75 L585.56,381.63 L588.10,380.50 L590.65,379.37 L593.20,378.24 L595.76,377.12 L598.33,376.02 L600.90,374.94 L603.49,373.89 L606.08,372.87 L608.69,371.89 L611.31,370.95 L613.95,370.06 L616.59,369.23 L619.26,368.45 L621.99,367.73 L620.01,359.47 L617.14,360.09 L614.25,360.80 L611.38,361.56 L608.55,362.38 L605.74,363.25 L602.96,364.16 L600.20,365.11 L597.47,366.08 L594.77,367.08 L592.09,368.09 L589.43,369.11 L586.80,370.14 L584.20,371.16 L581.62,372.17 L579.06,373.16 L576.89,375.07 Z" fill="#de2c50" opacity="1" filter="url(#glow2)" stroke="#de2c50" stroke-width="1.5" stroke-linejoin="round"/>
<path d="M617.68,366.98 L620.06,367.26 L622.36,367.65 L624.65,368.14 L626.93,368.73 L629.19,369.41 L631.45,370.19 L633.69,371.05 L635.92,371.98 L638.15,372.99 L640.36,374.07 L642.57,375.20 L644.76,376.40 L646.95,377.64 L649.12,378.93 L651.29,380.25 L653.31,381.85 L655.69,378.15 L653.38,376.96 L651.20,375.56 L649.00,374.19 L646.79,372.86 L644.55,371.57 L642.29,370.33 L640.01,369.16 L637.70,368.04 L635.37,367.00 L633.01,366.03 L630.63,365.15 L628.21,364.35 L625.77,363.66 L623.30,363.06 L620.79,362.58 L618.32,362.22 Z" fill="#fa8c10" opacity="1" filter="url(#glow1)" stroke="#fa8c10" stroke-width="1.5" stroke-linejoin="round"/>
<path d="M579.79,382.15 L582.62,381.79 L585.16,380.68 L587.71,379.56 L590.26,378.44 L592.82,377.33 L595.39,376.22 L597.97,375.13 L600.56,374.06 L603.16,373.01 L605.77,372.00 L608.40,371.02 L611.04,370.09 L613.69,369.21 L616.36,368.38 L619.05,367.62 L621.79,366.91 L620.21,360.29 L617.35,360.93 L614.48,361.64 L611.64,362.41 L608.82,363.24 L606.03,364.12 L603.27,365.03 L600.53,365.99 L597.82,366.97 L595.12,367.97 L592.46,368.99 L589.81,370.02 L587.19,371.06 L584.59,372.09 L582.01,373.11 L579.45,374.12 L577.21,375.85 Z" fill="#fa8c10" opacity="1" filter="url(#glow1)" stroke="#fa8c10" stroke-width="1.5" stroke-linejoin="round"/>
<path d="M617.77,366.32 L620.16,366.62 L622.49,367.02 L624.80,367.52 L627.10,368.13 L629.39,368.83 L631.66,369.62 L633.92,370.49 L636.17,371.44 L638.40,372.46 L640.63,373.55 L642.84,374.70 L645.04,375.91 L647.23,377.17 L649.41,378.46 L651.58,379.80 L653.64,381.34 L655.36,378.66 L653.10,377.41 L650.92,376.02 L648.72,374.66 L646.51,373.34 L644.28,372.07 L642.02,370.85 L639.75,369.68 L637.46,368.59 L635.14,367.56 L632.80,366.60 L630.43,365.74 L628.04,364.96 L625.62,364.27 L623.17,363.69 L620.69,363.22 L618.23,362.88 Z" fill="#ffd838" opacity="1" filter="url(#glow1)" stroke="#ffd838" stroke-width="1.5" stroke-linejoin="round"/>
<path d="M579.44,381.28 L582.19,380.74 L584.73,379.64 L587.28,378.54 L589.84,377.43 L592.41,376.32 L594.99,375.23 L597.58,374.14 L600.18,373.08 L602.80,372.05 L605.43,371.04 L608.07,370.07 L610.73,369.15 L613.41,368.28 L616.10,367.46 L618.81,366.70 L621.58,366.00 L620.42,361.20 L617.59,361.85 L614.74,362.57 L611.92,363.35 L609.13,364.18 L606.36,365.07 L603.61,365.99 L600.89,366.95 L598.19,367.94 L595.52,368.96 L592.86,369.99 L590.23,371.03 L587.61,372.07 L585.02,373.12 L582.44,374.15 L579.89,375.18 L577.56,376.72 Z" fill="#ffd838" opacity="1" filter="url(#glow1)" stroke="#ffd838" stroke-width="1.5" stroke-linejoin="round"/>
<path d="M617.90,365.37 L620.31,365.68 L622.68,366.10 L625.03,366.63 L627.36,367.25 L629.68,367.97 L631.98,368.79 L634.26,369.68 L636.52,370.65 L638.78,371.70 L641.01,372.81 L643.23,373.98 L645.44,375.20 L647.64,376.47 L649.83,377.79 L652.00,379.14 L654.11,380.60 L654.89,379.40 L652.68,378.07 L650.50,376.69 L648.31,375.35 L646.10,374.05 L643.88,372.80 L641.64,371.59 L639.38,370.45 L637.10,369.37 L634.80,368.37 L632.48,367.44 L630.14,366.59 L627.78,365.83 L625.39,365.17 L622.98,364.61 L620.55,364.16 L618.10,363.83 Z" fill="#fff2a8" opacity="0.9" filter="url(#glow1)" stroke="#fff2a8" stroke-width="0.8" stroke-linejoin="round"/>
<path d="M578.92,380.02 L581.55,379.20 L584.10,378.13 L586.66,377.04 L589.23,375.95 L591.81,374.86 L594.40,373.78 L597.01,372.71 L599.63,371.66 L602.27,370.64 L604.93,369.65 L607.60,368.69 L610.29,367.78 L613.00,366.92 L615.73,366.11 L618.47,365.36 L621.26,364.67 L620.74,362.53 L617.92,363.19 L615.12,363.92 L612.33,364.71 L609.57,365.55 L606.83,366.45 L604.11,367.38 L601.42,368.36 L598.74,369.36 L596.09,370.39 L593.45,371.43 L590.83,372.49 L588.23,373.55 L585.64,374.61 L583.07,375.67 L580.52,376.71 L578.08,377.98 Z" fill="#fff2a8" opacity="0.9" filter="url(#glow1)" stroke="#fff2a8" stroke-width="0.8" stroke-linejoin="round"/>
</g>
<rect x="326.60" y="404.40" width="303.40" height="9.70" fill="url(#cbar)" />
</g>
</svg>
</body></html>
